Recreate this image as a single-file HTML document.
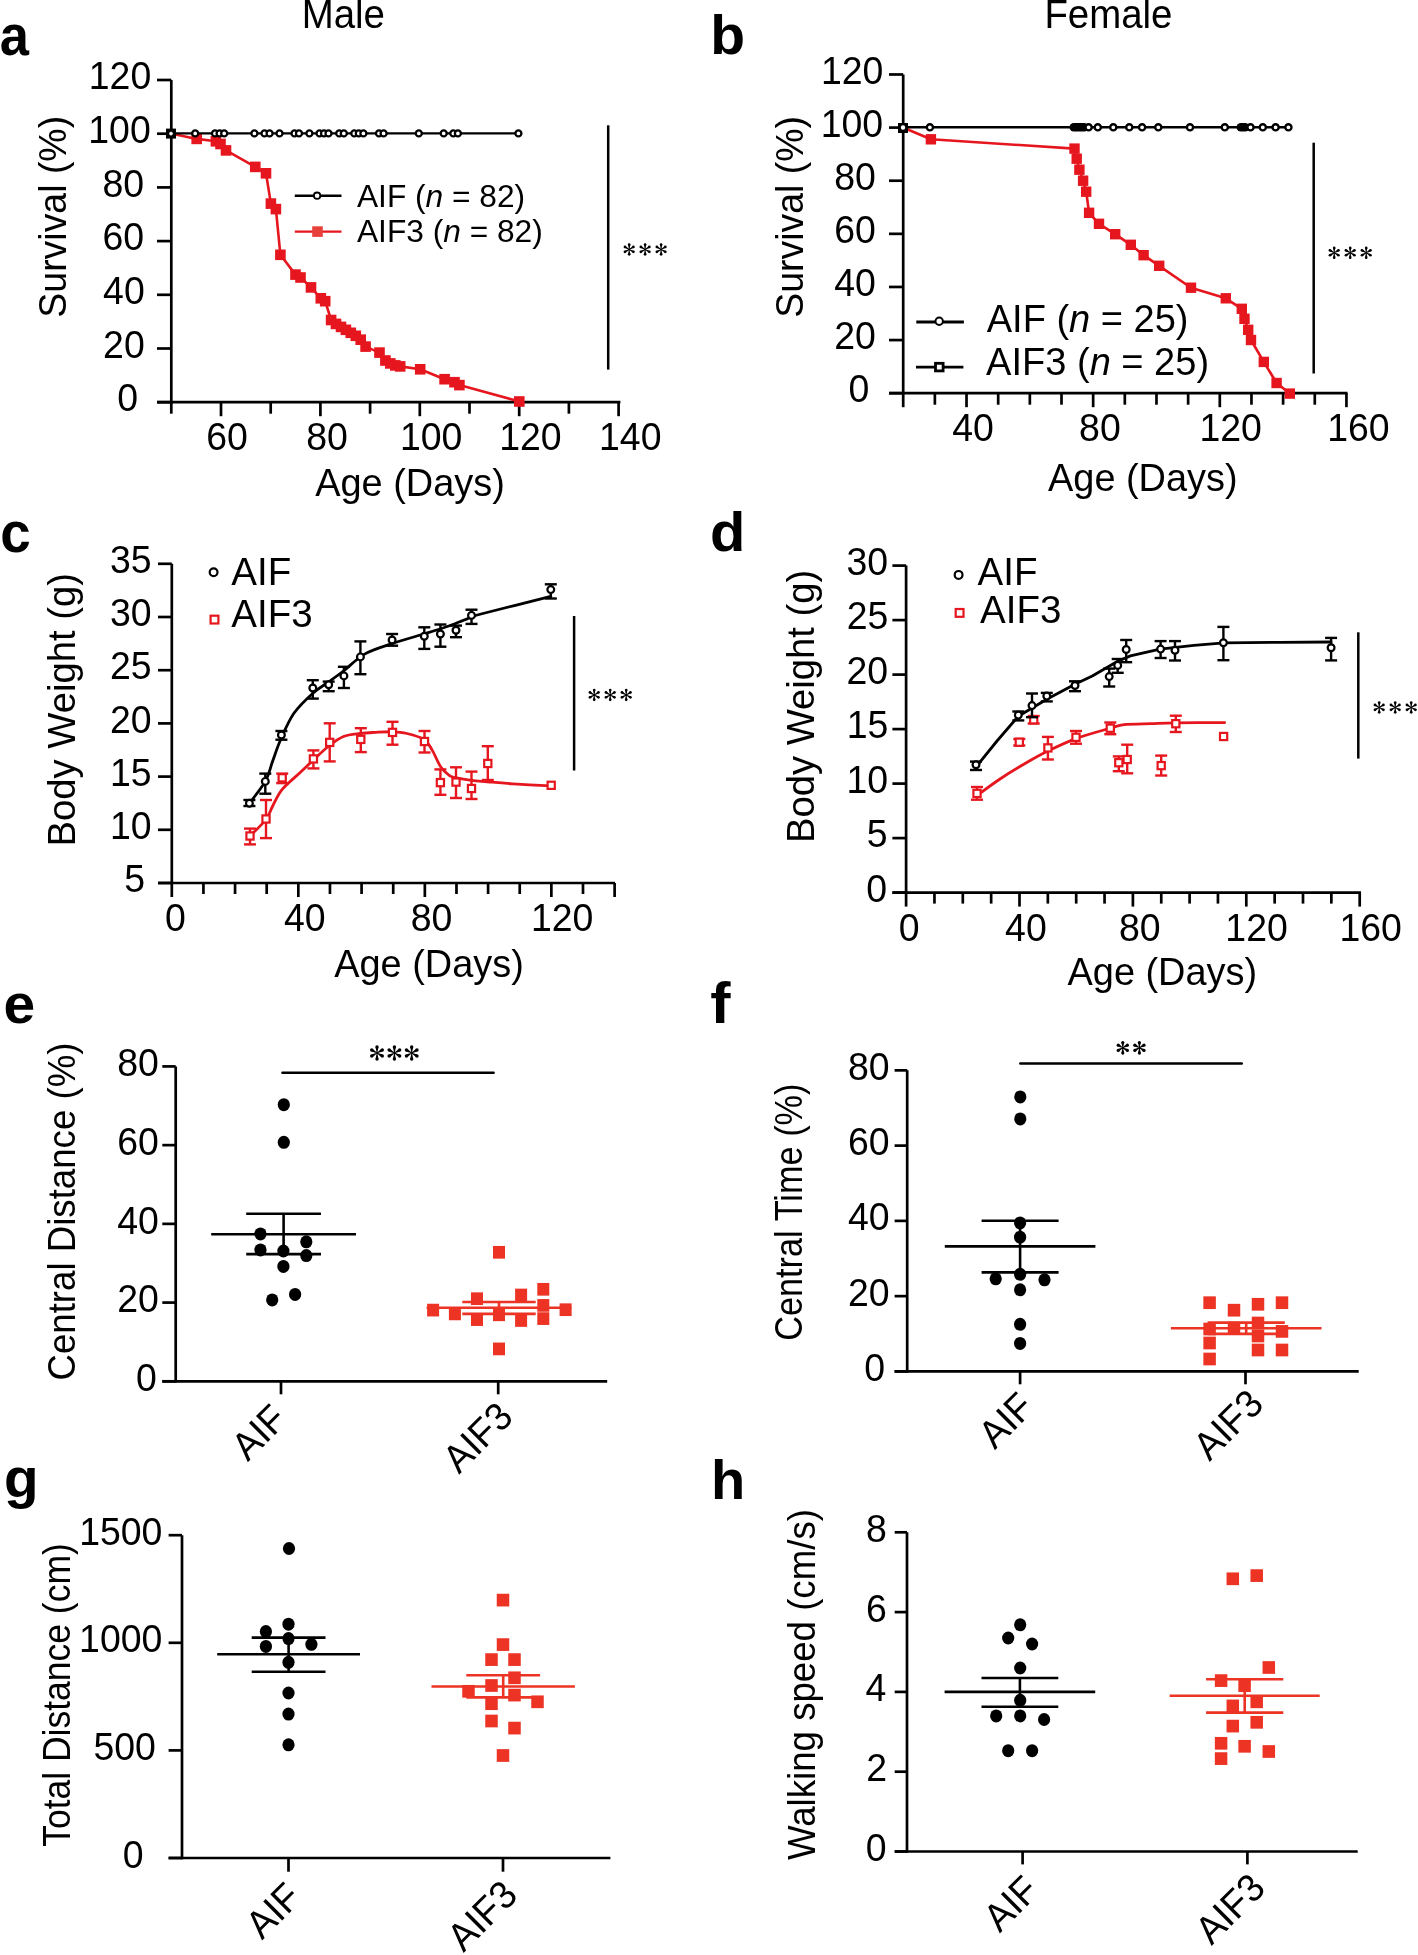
<!DOCTYPE html>
<html><head><meta charset="utf-8"><title>Figure</title>
<style>
html,body{margin:0;padding:0;background:#fff;}
body{width:1418px;height:1955px;overflow:hidden;}
svg{display:block;will-change:transform;}
text{font-family:"Liberation Sans",sans-serif;}
</style></head>
<body>
<svg width="1418" height="1955" viewBox="0 0 1418 1955">
<rect width="1418" height="1955" fill="#fff"/>
<text transform="translate(-0.32,54.72) scale(0.91,1)" style="font-family:'Liberation Sans',sans-serif;font-size:57.66px;font-weight:bold;font-style:normal" fill="#000">a</text>
<text transform="translate(301.73,28.4) scale(0.96,1)" style="font-family:'Liberation Sans',sans-serif;font-size:40px;font-weight:normal;font-style:normal" fill="#000">Male</text>
<line x1="171.3" y1="80" x2="171.3" y2="403.5" stroke="#000" stroke-width="2.7" stroke-linecap="butt"/>
<line x1="157" y1="402.2" x2="171.3" y2="402.2" stroke="#000" stroke-width="2.7" stroke-linecap="butt"/>
<line x1="157" y1="348.5" x2="171.3" y2="348.5" stroke="#000" stroke-width="2.7" stroke-linecap="butt"/>
<line x1="157" y1="294.8" x2="171.3" y2="294.8" stroke="#000" stroke-width="2.7" stroke-linecap="butt"/>
<line x1="157" y1="241.1" x2="171.3" y2="241.1" stroke="#000" stroke-width="2.7" stroke-linecap="butt"/>
<line x1="157" y1="187.4" x2="171.3" y2="187.4" stroke="#000" stroke-width="2.7" stroke-linecap="butt"/>
<line x1="157" y1="133.7" x2="171.3" y2="133.7" stroke="#000" stroke-width="2.7" stroke-linecap="butt"/>
<line x1="157" y1="80" x2="171.3" y2="80" stroke="#000" stroke-width="2.7" stroke-linecap="butt"/>
<line x1="157" y1="402.2" x2="620.4" y2="402.2" stroke="#000" stroke-width="2.7" stroke-linecap="butt"/>
<line x1="171.3" y1="402.2" x2="171.3" y2="413.7" stroke="#000" stroke-width="2.7" stroke-linecap="butt"/>
<line x1="221" y1="402.2" x2="221" y2="416.2" stroke="#000" stroke-width="2.7" stroke-linecap="butt"/>
<line x1="270.7" y1="402.2" x2="270.7" y2="413.7" stroke="#000" stroke-width="2.7" stroke-linecap="butt"/>
<line x1="320.4" y1="402.2" x2="320.4" y2="416.2" stroke="#000" stroke-width="2.7" stroke-linecap="butt"/>
<line x1="370.1" y1="402.2" x2="370.1" y2="413.7" stroke="#000" stroke-width="2.7" stroke-linecap="butt"/>
<line x1="419.8" y1="402.2" x2="419.8" y2="416.2" stroke="#000" stroke-width="2.7" stroke-linecap="butt"/>
<line x1="469.5" y1="402.2" x2="469.5" y2="413.7" stroke="#000" stroke-width="2.7" stroke-linecap="butt"/>
<line x1="519.2" y1="402.2" x2="519.2" y2="416.2" stroke="#000" stroke-width="2.7" stroke-linecap="butt"/>
<line x1="568.9" y1="402.2" x2="568.9" y2="413.7" stroke="#000" stroke-width="2.7" stroke-linecap="butt"/>
<line x1="618.6" y1="402.2" x2="618.6" y2="416.2" stroke="#000" stroke-width="2.7" stroke-linecap="butt"/>
<text transform="translate(117.24,411.32) scale(0.96,1)" style="font-family:'Liberation Sans',sans-serif;font-size:39px;font-weight:normal;font-style:normal" fill="#000">0</text>
<text transform="translate(103.12,357.62) scale(0.96,1)" style="font-family:'Liberation Sans',sans-serif;font-size:39px;font-weight:normal;font-style:normal" fill="#000">20</text>
<text transform="translate(103.12,303.92) scale(0.96,1)" style="font-family:'Liberation Sans',sans-serif;font-size:39px;font-weight:normal;font-style:normal" fill="#000">40</text>
<text transform="translate(102.42,250.22) scale(0.96,1)" style="font-family:'Liberation Sans',sans-serif;font-size:39px;font-weight:normal;font-style:normal" fill="#000">60</text>
<text transform="translate(102.42,196.52) scale(0.96,1)" style="font-family:'Liberation Sans',sans-serif;font-size:39px;font-weight:normal;font-style:normal" fill="#000">80</text>
<text transform="translate(88.29,142.82) scale(0.96,1)" style="font-family:'Liberation Sans',sans-serif;font-size:39px;font-weight:normal;font-style:normal" fill="#000">100</text>
<text transform="translate(88.79,89.12) scale(0.96,1)" style="font-family:'Liberation Sans',sans-serif;font-size:39px;font-weight:normal;font-style:normal" fill="#000">120</text>
<text transform="translate(206.25,449.91) scale(0.96,1)" style="font-family:'Liberation Sans',sans-serif;font-size:39px;font-weight:normal;font-style:normal" fill="#000">60</text>
<text transform="translate(306.3,449.91) scale(0.96,1)" style="font-family:'Liberation Sans',sans-serif;font-size:39px;font-weight:normal;font-style:normal" fill="#000">80</text>
<text transform="translate(399.92,449.91) scale(0.96,1)" style="font-family:'Liberation Sans',sans-serif;font-size:39px;font-weight:normal;font-style:normal" fill="#000">100</text>
<text transform="translate(499.22,449.91) scale(0.96,1)" style="font-family:'Liberation Sans',sans-serif;font-size:39px;font-weight:normal;font-style:normal" fill="#000">120</text>
<text transform="translate(599.02,449.91) scale(0.96,1)" style="font-family:'Liberation Sans',sans-serif;font-size:39px;font-weight:normal;font-style:normal" fill="#000">140</text>
<text transform="translate(315.22,496) scale(0.96,1)" style="font-family:'Liberation Sans',sans-serif;font-size:39.5px;font-weight:normal;font-style:normal" fill="#000">Age (Days)</text>
<text transform="translate(66,317.63) rotate(-90) scale(0.96,1)" style="font-family:'Liberation Sans',sans-serif;font-size:39px;font-weight:normal;font-style:normal" fill="#000">Survival (%)</text>
<line x1="608.2" y1="125.3" x2="608.2" y2="369.6" stroke="#000" stroke-width="2.5" stroke-linecap="butt"/>
<circle cx="629.2" cy="244.5" r="1.35" fill="#000"/>
<circle cx="633.44" cy="246.95" r="1.35" fill="#000"/>
<circle cx="633.44" cy="251.85" r="1.35" fill="#000"/>
<circle cx="629.2" cy="254.3" r="1.35" fill="#000"/>
<circle cx="624.96" cy="251.85" r="1.35" fill="#000"/>
<circle cx="624.96" cy="246.95" r="1.35" fill="#000"/>
<path d="M629.5,249.4 L630.28,244.91 L628.12,244.91 L628.9,249.4Z M629.35,249.66 L633.63,248.09 L632.55,246.22 L629.05,249.14Z M629.05,249.66 L632.55,252.58 L633.63,250.71 L629.35,249.14Z M628.9,249.4 L628.12,253.9 L630.28,253.9 L629.5,249.4Z M629.05,249.14 L624.77,250.71 L625.85,252.58 L629.35,249.66Z M629.35,249.14 L625.85,246.22 L624.77,248.09 L629.05,249.66Z " fill="#000"/>
<circle cx="645.1" cy="244.5" r="1.35" fill="#000"/>
<circle cx="649.34" cy="246.95" r="1.35" fill="#000"/>
<circle cx="649.34" cy="251.85" r="1.35" fill="#000"/>
<circle cx="645.1" cy="254.3" r="1.35" fill="#000"/>
<circle cx="640.86" cy="251.85" r="1.35" fill="#000"/>
<circle cx="640.86" cy="246.95" r="1.35" fill="#000"/>
<path d="M645.4,249.4 L646.18,244.91 L644.02,244.91 L644.8,249.4Z M645.25,249.66 L649.53,248.09 L648.45,246.22 L644.95,249.14Z M644.95,249.66 L648.45,252.58 L649.53,250.71 L645.25,249.14Z M644.8,249.4 L644.02,253.9 L646.18,253.9 L645.4,249.4Z M644.95,249.14 L640.67,250.71 L641.75,252.58 L645.25,249.66Z M645.25,249.14 L641.75,246.22 L640.67,248.09 L644.95,249.66Z " fill="#000"/>
<circle cx="661.1" cy="244.5" r="1.35" fill="#000"/>
<circle cx="665.34" cy="246.95" r="1.35" fill="#000"/>
<circle cx="665.34" cy="251.85" r="1.35" fill="#000"/>
<circle cx="661.1" cy="254.3" r="1.35" fill="#000"/>
<circle cx="656.86" cy="251.85" r="1.35" fill="#000"/>
<circle cx="656.86" cy="246.95" r="1.35" fill="#000"/>
<path d="M661.4,249.4 L662.18,244.91 L660.02,244.91 L660.8,249.4Z M661.25,249.66 L665.53,248.09 L664.45,246.22 L660.95,249.14Z M660.95,249.66 L664.45,252.58 L665.53,250.71 L661.25,249.14Z M660.8,249.4 L660.02,253.9 L662.18,253.9 L661.4,249.4Z M660.95,249.14 L656.67,250.71 L657.75,252.58 L661.25,249.66Z M661.25,249.14 L657.75,246.22 L656.67,248.09 L660.95,249.66Z " fill="#000"/>
<polyline points="171,133.4 196.7,138.9 215.9,141.3 220.5,144 226,150.4 255.3,166.9 266,173.3 270.9,203.6 275.9,209.1 280.4,254.8 295.5,274.6 300.5,277.5 311,287.4 320.8,298.3 325.2,301.2 331.1,320 336,323.9 341,326.9 345.9,329.8 350.8,332.8 355.8,335.8 360.7,339.7 365.6,346.6 379.5,352.6 385.4,360.5 390.3,363.4 395.3,365.4 400.2,366.4 420.2,369.3 444.6,379.2 454.5,382.2 459.4,385.1 519.3,401.5" fill="none" stroke="#e6161e" stroke-width="2.6" stroke-linejoin="round" stroke-linecap="round"/>
<rect x="191.4" y="133.6" width="10.6" height="10.6" fill="#e6161e"/>
<rect x="210.6" y="136" width="10.6" height="10.6" fill="#e6161e"/>
<rect x="215.2" y="138.7" width="10.6" height="10.6" fill="#e6161e"/>
<rect x="220.7" y="145.1" width="10.6" height="10.6" fill="#e6161e"/>
<rect x="250" y="161.6" width="10.6" height="10.6" fill="#e6161e"/>
<rect x="260.7" y="168" width="10.6" height="10.6" fill="#e6161e"/>
<rect x="265.6" y="198.3" width="10.6" height="10.6" fill="#e6161e"/>
<rect x="270.6" y="203.8" width="10.6" height="10.6" fill="#e6161e"/>
<rect x="275.1" y="249.5" width="10.6" height="10.6" fill="#e6161e"/>
<rect x="290.2" y="269.3" width="10.6" height="10.6" fill="#e6161e"/>
<rect x="295.2" y="272.2" width="10.6" height="10.6" fill="#e6161e"/>
<rect x="305.7" y="282.1" width="10.6" height="10.6" fill="#e6161e"/>
<rect x="315.5" y="293" width="10.6" height="10.6" fill="#e6161e"/>
<rect x="319.9" y="295.9" width="10.6" height="10.6" fill="#e6161e"/>
<rect x="325.8" y="314.7" width="10.6" height="10.6" fill="#e6161e"/>
<rect x="330.7" y="318.6" width="10.6" height="10.6" fill="#e6161e"/>
<rect x="335.7" y="321.6" width="10.6" height="10.6" fill="#e6161e"/>
<rect x="340.6" y="324.5" width="10.6" height="10.6" fill="#e6161e"/>
<rect x="345.5" y="327.5" width="10.6" height="10.6" fill="#e6161e"/>
<rect x="350.5" y="330.5" width="10.6" height="10.6" fill="#e6161e"/>
<rect x="355.4" y="334.4" width="10.6" height="10.6" fill="#e6161e"/>
<rect x="360.3" y="341.3" width="10.6" height="10.6" fill="#e6161e"/>
<rect x="374.2" y="347.3" width="10.6" height="10.6" fill="#e6161e"/>
<rect x="380.1" y="355.2" width="10.6" height="10.6" fill="#e6161e"/>
<rect x="385" y="358.1" width="10.6" height="10.6" fill="#e6161e"/>
<rect x="390" y="360.1" width="10.6" height="10.6" fill="#e6161e"/>
<rect x="394.9" y="361.1" width="10.6" height="10.6" fill="#e6161e"/>
<rect x="414.9" y="364" width="10.6" height="10.6" fill="#e6161e"/>
<rect x="439.3" y="373.9" width="10.6" height="10.6" fill="#e6161e"/>
<rect x="449.2" y="376.9" width="10.6" height="10.6" fill="#e6161e"/>
<rect x="454.1" y="379.8" width="10.6" height="10.6" fill="#e6161e"/>
<rect x="514" y="396.2" width="10.6" height="10.6" fill="#e6161e"/>
<line x1="171" y1="133.4" x2="518.4" y2="133.4" stroke="#000" stroke-width="2.4" stroke-linecap="butt"/>
<circle cx="195.2" cy="133.4" r="3" fill="#fff" stroke="#000" stroke-width="2.3"/>
<circle cx="215" cy="133.4" r="3" fill="#fff" stroke="#000" stroke-width="2.3"/>
<circle cx="219.6" cy="133.4" r="3" fill="#fff" stroke="#000" stroke-width="2.3"/>
<circle cx="224.2" cy="133.4" r="3" fill="#fff" stroke="#000" stroke-width="2.3"/>
<circle cx="254.4" cy="133.4" r="3" fill="#fff" stroke="#000" stroke-width="2.3"/>
<circle cx="264.5" cy="133.4" r="3" fill="#fff" stroke="#000" stroke-width="2.3"/>
<circle cx="269.6" cy="133.4" r="3" fill="#fff" stroke="#000" stroke-width="2.3"/>
<circle cx="279.5" cy="133.4" r="3" fill="#fff" stroke="#000" stroke-width="2.3"/>
<circle cx="294.5" cy="133.4" r="3" fill="#fff" stroke="#000" stroke-width="2.3"/>
<circle cx="299" cy="133.4" r="3" fill="#fff" stroke="#000" stroke-width="2.3"/>
<circle cx="309.4" cy="133.4" r="3" fill="#fff" stroke="#000" stroke-width="2.3"/>
<circle cx="319.5" cy="133.4" r="3" fill="#fff" stroke="#000" stroke-width="2.3"/>
<circle cx="324" cy="133.4" r="3" fill="#fff" stroke="#000" stroke-width="2.3"/>
<circle cx="328.5" cy="133.4" r="3" fill="#fff" stroke="#000" stroke-width="2.3"/>
<circle cx="339.2" cy="133.4" r="3" fill="#fff" stroke="#000" stroke-width="2.3"/>
<circle cx="343.8" cy="133.4" r="3" fill="#fff" stroke="#000" stroke-width="2.3"/>
<circle cx="354.3" cy="133.4" r="3" fill="#fff" stroke="#000" stroke-width="2.3"/>
<circle cx="358.8" cy="133.4" r="3" fill="#fff" stroke="#000" stroke-width="2.3"/>
<circle cx="363.4" cy="133.4" r="3" fill="#fff" stroke="#000" stroke-width="2.3"/>
<circle cx="379" cy="133.4" r="3" fill="#fff" stroke="#000" stroke-width="2.3"/>
<circle cx="383.6" cy="133.4" r="3" fill="#fff" stroke="#000" stroke-width="2.3"/>
<circle cx="418.8" cy="133.4" r="3" fill="#fff" stroke="#000" stroke-width="2.3"/>
<circle cx="443.7" cy="133.4" r="3" fill="#fff" stroke="#000" stroke-width="2.3"/>
<circle cx="453.3" cy="133.4" r="3" fill="#fff" stroke="#000" stroke-width="2.3"/>
<circle cx="457.9" cy="133.4" r="3" fill="#fff" stroke="#000" stroke-width="2.3"/>
<circle cx="518.4" cy="133.4" r="3" fill="#fff" stroke="#000" stroke-width="2.3"/>
<rect x="166" y="128.6" width="10" height="10" fill="#000"/>
<circle cx="171" cy="133.6" r="1.6" fill="#fff" stroke="#fff" stroke-width="0.5"/>
<line x1="294.8" y1="195.7" x2="341.5" y2="195.7" stroke="#000" stroke-width="2.4" stroke-linecap="butt"/>
<circle cx="317.1" cy="195.7" r="3.2" fill="#fff" stroke="#000" stroke-width="1.8"/>
<line x1="294.8" y1="231.6" x2="341.5" y2="231.6" stroke="#e6161e" stroke-width="2.4" stroke-linecap="butt"/>
<rect x="312.2" y="226.3" width="10.6" height="10.6" fill="#e8403a"/>
<text transform="translate(356.94,207.3) scale(1,1)" style="font-family:'Liberation Sans',sans-serif;font-size:31.7px;font-weight:normal;font-style:normal" fill="#000">AIF (<tspan style="font-style:italic">n</tspan> = 82)</text>
<text transform="translate(356.94,242) scale(1,1)" style="font-family:'Liberation Sans',sans-serif;font-size:31.7px;font-weight:normal;font-style:normal" fill="#000">AIF3 (<tspan style="font-style:italic">n</tspan> = 82)</text>
<text transform="translate(710.33,53.95) scale(1.03,1)" style="font-family:'Liberation Sans',sans-serif;font-size:55.37px;font-weight:bold;font-style:normal" fill="#000">b</text>
<text transform="translate(1044.43,28.4) scale(0.96,1)" style="font-family:'Liberation Sans',sans-serif;font-size:40px;font-weight:normal;font-style:normal" fill="#000">Female</text>
<line x1="903.2" y1="74.48" x2="903.2" y2="394.5" stroke="#000" stroke-width="2.7" stroke-linecap="butt"/>
<line x1="889" y1="393.2" x2="903.2" y2="393.2" stroke="#000" stroke-width="2.7" stroke-linecap="butt"/>
<line x1="889" y1="340.08" x2="903.2" y2="340.08" stroke="#000" stroke-width="2.7" stroke-linecap="butt"/>
<line x1="889" y1="286.96" x2="903.2" y2="286.96" stroke="#000" stroke-width="2.7" stroke-linecap="butt"/>
<line x1="889" y1="233.84" x2="903.2" y2="233.84" stroke="#000" stroke-width="2.7" stroke-linecap="butt"/>
<line x1="889" y1="180.72" x2="903.2" y2="180.72" stroke="#000" stroke-width="2.7" stroke-linecap="butt"/>
<line x1="889" y1="127.6" x2="903.2" y2="127.6" stroke="#000" stroke-width="2.7" stroke-linecap="butt"/>
<line x1="889" y1="74.48" x2="903.2" y2="74.48" stroke="#000" stroke-width="2.7" stroke-linecap="butt"/>
<line x1="889" y1="393.2" x2="1347.5" y2="393.2" stroke="#000" stroke-width="2.7" stroke-linecap="butt"/>
<line x1="903.2" y1="393.2" x2="903.2" y2="407.2" stroke="#000" stroke-width="2.7" stroke-linecap="butt"/>
<line x1="934.86" y1="393.2" x2="934.86" y2="404.7" stroke="#000" stroke-width="2.7" stroke-linecap="butt"/>
<line x1="966.52" y1="393.2" x2="966.52" y2="407.2" stroke="#000" stroke-width="2.7" stroke-linecap="butt"/>
<line x1="998.18" y1="393.2" x2="998.18" y2="404.7" stroke="#000" stroke-width="2.7" stroke-linecap="butt"/>
<line x1="1029.84" y1="393.2" x2="1029.84" y2="404.7" stroke="#000" stroke-width="2.7" stroke-linecap="butt"/>
<line x1="1061.5" y1="393.2" x2="1061.5" y2="404.7" stroke="#000" stroke-width="2.7" stroke-linecap="butt"/>
<line x1="1093.16" y1="393.2" x2="1093.16" y2="407.2" stroke="#000" stroke-width="2.7" stroke-linecap="butt"/>
<line x1="1124.82" y1="393.2" x2="1124.82" y2="404.7" stroke="#000" stroke-width="2.7" stroke-linecap="butt"/>
<line x1="1156.48" y1="393.2" x2="1156.48" y2="404.7" stroke="#000" stroke-width="2.7" stroke-linecap="butt"/>
<line x1="1188.14" y1="393.2" x2="1188.14" y2="404.7" stroke="#000" stroke-width="2.7" stroke-linecap="butt"/>
<line x1="1219.8" y1="393.2" x2="1219.8" y2="407.2" stroke="#000" stroke-width="2.7" stroke-linecap="butt"/>
<line x1="1251.46" y1="393.2" x2="1251.46" y2="404.7" stroke="#000" stroke-width="2.7" stroke-linecap="butt"/>
<line x1="1283.12" y1="393.2" x2="1283.12" y2="404.7" stroke="#000" stroke-width="2.7" stroke-linecap="butt"/>
<line x1="1314.78" y1="393.2" x2="1314.78" y2="404.7" stroke="#000" stroke-width="2.7" stroke-linecap="butt"/>
<line x1="1346.44" y1="393.2" x2="1346.44" y2="407.2" stroke="#000" stroke-width="2.7" stroke-linecap="butt"/>
<text transform="translate(848.54,402.32) scale(0.96,1)" style="font-family:'Liberation Sans',sans-serif;font-size:39px;font-weight:normal;font-style:normal" fill="#000">0</text>
<text transform="translate(834.22,349.2) scale(0.96,1)" style="font-family:'Liberation Sans',sans-serif;font-size:39px;font-weight:normal;font-style:normal" fill="#000">20</text>
<text transform="translate(834.22,296.08) scale(0.96,1)" style="font-family:'Liberation Sans',sans-serif;font-size:39px;font-weight:normal;font-style:normal" fill="#000">40</text>
<text transform="translate(834.22,242.96) scale(0.96,1)" style="font-family:'Liberation Sans',sans-serif;font-size:39px;font-weight:normal;font-style:normal" fill="#000">60</text>
<text transform="translate(834.22,189.84) scale(0.96,1)" style="font-family:'Liberation Sans',sans-serif;font-size:39px;font-weight:normal;font-style:normal" fill="#000">80</text>
<text transform="translate(820.69,136.72) scale(0.96,1)" style="font-family:'Liberation Sans',sans-serif;font-size:39px;font-weight:normal;font-style:normal" fill="#000">100</text>
<text transform="translate(820.99,83.6) scale(0.96,1)" style="font-family:'Liberation Sans',sans-serif;font-size:39px;font-weight:normal;font-style:normal" fill="#000">120</text>
<text transform="translate(952.28,441.31) scale(0.96,1)" style="font-family:'Liberation Sans',sans-serif;font-size:39px;font-weight:normal;font-style:normal" fill="#000">40</text>
<text transform="translate(1079.1,441.31) scale(0.96,1)" style="font-family:'Liberation Sans',sans-serif;font-size:39px;font-weight:normal;font-style:normal" fill="#000">80</text>
<text transform="translate(1199.42,441.31) scale(0.96,1)" style="font-family:'Liberation Sans',sans-serif;font-size:39px;font-weight:normal;font-style:normal" fill="#000">120</text>
<text transform="translate(1327.22,441.31) scale(0.96,1)" style="font-family:'Liberation Sans',sans-serif;font-size:39px;font-weight:normal;font-style:normal" fill="#000">160</text>
<text transform="translate(1048.02,491.1) scale(0.96,1)" style="font-family:'Liberation Sans',sans-serif;font-size:39.5px;font-weight:normal;font-style:normal" fill="#000">Age (Days)</text>
<text transform="translate(803.4,317.73) rotate(-90) scale(0.96,1)" style="font-family:'Liberation Sans',sans-serif;font-size:39px;font-weight:normal;font-style:normal" fill="#000">Survival (%)</text>
<line x1="1313.7" y1="142.7" x2="1313.7" y2="373.5" stroke="#000" stroke-width="2.5" stroke-linecap="butt"/>
<circle cx="1334.2" cy="247.9" r="1.35" fill="#000"/>
<circle cx="1338.44" cy="250.35" r="1.35" fill="#000"/>
<circle cx="1338.44" cy="255.25" r="1.35" fill="#000"/>
<circle cx="1334.2" cy="257.7" r="1.35" fill="#000"/>
<circle cx="1329.96" cy="255.25" r="1.35" fill="#000"/>
<circle cx="1329.96" cy="250.35" r="1.35" fill="#000"/>
<path d="M1334.5,252.8 L1335.28,248.31 L1333.12,248.31 L1333.9,252.8Z M1334.35,253.06 L1338.63,251.49 L1337.55,249.62 L1334.05,252.54Z M1334.05,253.06 L1337.55,255.98 L1338.63,254.11 L1334.35,252.54Z M1333.9,252.8 L1333.12,257.3 L1335.28,257.3 L1334.5,252.8Z M1334.05,252.54 L1329.77,254.11 L1330.85,255.98 L1334.35,253.06Z M1334.35,252.54 L1330.85,249.62 L1329.77,251.49 L1334.05,253.06Z " fill="#000"/>
<circle cx="1350.2" cy="247.9" r="1.35" fill="#000"/>
<circle cx="1354.44" cy="250.35" r="1.35" fill="#000"/>
<circle cx="1354.44" cy="255.25" r="1.35" fill="#000"/>
<circle cx="1350.2" cy="257.7" r="1.35" fill="#000"/>
<circle cx="1345.96" cy="255.25" r="1.35" fill="#000"/>
<circle cx="1345.96" cy="250.35" r="1.35" fill="#000"/>
<path d="M1350.5,252.8 L1351.28,248.31 L1349.12,248.31 L1349.9,252.8Z M1350.35,253.06 L1354.63,251.49 L1353.55,249.62 L1350.05,252.54Z M1350.05,253.06 L1353.55,255.98 L1354.63,254.11 L1350.35,252.54Z M1349.9,252.8 L1349.12,257.3 L1351.28,257.3 L1350.5,252.8Z M1350.05,252.54 L1345.77,254.11 L1346.85,255.98 L1350.35,253.06Z M1350.35,252.54 L1346.85,249.62 L1345.77,251.49 L1350.05,253.06Z " fill="#000"/>
<circle cx="1366.2" cy="247.9" r="1.35" fill="#000"/>
<circle cx="1370.44" cy="250.35" r="1.35" fill="#000"/>
<circle cx="1370.44" cy="255.25" r="1.35" fill="#000"/>
<circle cx="1366.2" cy="257.7" r="1.35" fill="#000"/>
<circle cx="1361.96" cy="255.25" r="1.35" fill="#000"/>
<circle cx="1361.96" cy="250.35" r="1.35" fill="#000"/>
<path d="M1366.5,252.8 L1367.28,248.31 L1365.12,248.31 L1365.9,252.8Z M1366.35,253.06 L1370.63,251.49 L1369.55,249.62 L1366.05,252.54Z M1366.05,253.06 L1369.55,255.98 L1370.63,254.11 L1366.35,252.54Z M1365.9,252.8 L1365.12,257.3 L1367.28,257.3 L1366.5,252.8Z M1366.05,252.54 L1361.77,254.11 L1362.85,255.98 L1366.35,253.06Z M1366.35,252.54 L1362.85,249.62 L1361.77,251.49 L1366.05,253.06Z " fill="#000"/>
<polyline points="903,127.5 930.9,139.3 1074.5,148.6 1076.7,158.7 1079.4,169.7 1083.1,180.7 1086.2,191.7 1089.1,212.8 1099,223.8 1115.2,234.2 1130.8,244.8 1143.6,255.2 1159.2,265.8 1191,287.7 1225.8,298.3 1241.8,308.8 1244.5,318.8 1248.2,329.8 1251,340 1263.8,361.9 1276.6,383 1289.8,393.6" fill="none" stroke="#e6161e" stroke-width="2.6" stroke-linejoin="round" stroke-linecap="round"/>
<rect x="925.7" y="134.1" width="10.4" height="10.4" fill="#e6161e"/>
<rect x="1069.3" y="143.4" width="10.4" height="10.4" fill="#e6161e"/>
<rect x="1071.5" y="153.5" width="10.4" height="10.4" fill="#e6161e"/>
<rect x="1074.2" y="164.5" width="10.4" height="10.4" fill="#e6161e"/>
<rect x="1077.9" y="175.5" width="10.4" height="10.4" fill="#e6161e"/>
<rect x="1081" y="186.5" width="10.4" height="10.4" fill="#e6161e"/>
<rect x="1083.9" y="207.6" width="10.4" height="10.4" fill="#e6161e"/>
<rect x="1093.8" y="218.6" width="10.4" height="10.4" fill="#e6161e"/>
<rect x="1110" y="229" width="10.4" height="10.4" fill="#e6161e"/>
<rect x="1125.6" y="239.6" width="10.4" height="10.4" fill="#e6161e"/>
<rect x="1138.4" y="250" width="10.4" height="10.4" fill="#e6161e"/>
<rect x="1154" y="260.6" width="10.4" height="10.4" fill="#e6161e"/>
<rect x="1185.8" y="282.5" width="10.4" height="10.4" fill="#e6161e"/>
<rect x="1220.6" y="293.1" width="10.4" height="10.4" fill="#e6161e"/>
<rect x="1236.6" y="303.6" width="10.4" height="10.4" fill="#e6161e"/>
<rect x="1239.3" y="313.6" width="10.4" height="10.4" fill="#e6161e"/>
<rect x="1243" y="324.6" width="10.4" height="10.4" fill="#e6161e"/>
<rect x="1245.8" y="334.8" width="10.4" height="10.4" fill="#e6161e"/>
<rect x="1258.6" y="356.7" width="10.4" height="10.4" fill="#e6161e"/>
<rect x="1271.4" y="377.8" width="10.4" height="10.4" fill="#e6161e"/>
<rect x="1284.6" y="388.4" width="10.4" height="10.4" fill="#e6161e"/>
<line x1="903" y1="127.3" x2="1288.4" y2="127.3" stroke="#000" stroke-width="2.5" stroke-linecap="butt"/>
<rect x="1069.5" y="123" width="19" height="8.6" rx="4.3" fill="#000"/>
<rect x="1236.5" y="123" width="13" height="8.6" rx="4.3" fill="#000"/>
<circle cx="929.9" cy="127.3" r="3.1" fill="#fff" stroke="#000" stroke-width="2.4"/>
<circle cx="1088.6" cy="127.3" r="3.1" fill="#fff" stroke="#000" stroke-width="2.4"/>
<circle cx="1097.8" cy="127.3" r="3.1" fill="#fff" stroke="#000" stroke-width="2.4"/>
<circle cx="1113.3" cy="127.3" r="3.1" fill="#fff" stroke="#000" stroke-width="2.4"/>
<circle cx="1129.3" cy="127.3" r="3.1" fill="#fff" stroke="#000" stroke-width="2.4"/>
<circle cx="1142.1" cy="127.3" r="3.1" fill="#fff" stroke="#000" stroke-width="2.4"/>
<circle cx="1158.3" cy="127.3" r="3.1" fill="#fff" stroke="#000" stroke-width="2.4"/>
<circle cx="1190" cy="127.3" r="3.1" fill="#fff" stroke="#000" stroke-width="2.4"/>
<circle cx="1224.8" cy="127.3" r="3.1" fill="#fff" stroke="#000" stroke-width="2.4"/>
<circle cx="1250.5" cy="127.3" r="3.1" fill="#fff" stroke="#000" stroke-width="2.4"/>
<circle cx="1262.8" cy="127.3" r="3.1" fill="#fff" stroke="#000" stroke-width="2.4"/>
<circle cx="1275.6" cy="127.3" r="3.1" fill="#fff" stroke="#000" stroke-width="2.4"/>
<circle cx="1288.4" cy="127.3" r="3.1" fill="#fff" stroke="#000" stroke-width="2.4"/>
<rect x="899.3" y="124.3" width="7.4" height="7.4" fill="#fff" stroke="#000" stroke-width="2.6"/>
<circle cx="903" cy="127.5" r="3" fill="#fff" stroke="#000" stroke-width="1.6"/>
<line x1="916.3" y1="322" x2="963.9" y2="322" stroke="#000" stroke-width="2.8" stroke-linecap="butt"/>
<circle cx="939.2" cy="321.2" r="3.7" fill="#fff" stroke="#000" stroke-width="2"/>
<line x1="916" y1="367.1" x2="963.4" y2="367.1" stroke="#000" stroke-width="2.8" stroke-linecap="butt"/>
<rect x="935.5" y="363.3" width="7.6" height="7.6" fill="#fff" stroke="#000" stroke-width="2.8"/>
<text transform="translate(986.72,331.8) scale(0.98,1)" style="font-family:'Liberation Sans',sans-serif;font-size:38.8px;font-weight:normal;font-style:normal" fill="#000">AIF (<tspan style="font-style:italic">n</tspan> = 25)</text>
<text transform="translate(986.12,375) scale(0.98,1)" style="font-family:'Liberation Sans',sans-serif;font-size:38.8px;font-weight:normal;font-style:normal" fill="#000">AIF3 (<tspan style="font-style:italic">n</tspan> = 25)</text>
<text transform="translate(0.36,551.53) scale(0.97,1)" style="font-family:'Liberation Sans',sans-serif;font-size:56.57px;font-weight:bold;font-style:normal" fill="#000">c</text>
<line x1="171.8" y1="563.8" x2="171.8" y2="884.3" stroke="#000" stroke-width="2.7" stroke-linecap="butt"/>
<line x1="158" y1="883" x2="171.8" y2="883" stroke="#000" stroke-width="2.7" stroke-linecap="butt"/>
<line x1="158" y1="829.8" x2="171.8" y2="829.8" stroke="#000" stroke-width="2.7" stroke-linecap="butt"/>
<line x1="158" y1="776.6" x2="171.8" y2="776.6" stroke="#000" stroke-width="2.7" stroke-linecap="butt"/>
<line x1="158" y1="723.4" x2="171.8" y2="723.4" stroke="#000" stroke-width="2.7" stroke-linecap="butt"/>
<line x1="158" y1="670.2" x2="171.8" y2="670.2" stroke="#000" stroke-width="2.7" stroke-linecap="butt"/>
<line x1="158" y1="617" x2="171.8" y2="617" stroke="#000" stroke-width="2.7" stroke-linecap="butt"/>
<line x1="158" y1="563.8" x2="171.8" y2="563.8" stroke="#000" stroke-width="2.7" stroke-linecap="butt"/>
<line x1="158" y1="883" x2="615" y2="883" stroke="#000" stroke-width="2.7" stroke-linecap="butt"/>
<line x1="171.8" y1="883" x2="171.8" y2="897" stroke="#000" stroke-width="2.7" stroke-linecap="butt"/>
<line x1="203.43" y1="883" x2="203.43" y2="894" stroke="#000" stroke-width="2.7" stroke-linecap="butt"/>
<line x1="235.06" y1="883" x2="235.06" y2="894" stroke="#000" stroke-width="2.7" stroke-linecap="butt"/>
<line x1="266.69" y1="883" x2="266.69" y2="894" stroke="#000" stroke-width="2.7" stroke-linecap="butt"/>
<line x1="298.32" y1="883" x2="298.32" y2="897" stroke="#000" stroke-width="2.7" stroke-linecap="butt"/>
<line x1="329.95" y1="883" x2="329.95" y2="894" stroke="#000" stroke-width="2.7" stroke-linecap="butt"/>
<line x1="361.58" y1="883" x2="361.58" y2="894" stroke="#000" stroke-width="2.7" stroke-linecap="butt"/>
<line x1="393.21" y1="883" x2="393.21" y2="894" stroke="#000" stroke-width="2.7" stroke-linecap="butt"/>
<line x1="424.84" y1="883" x2="424.84" y2="897" stroke="#000" stroke-width="2.7" stroke-linecap="butt"/>
<line x1="456.47" y1="883" x2="456.47" y2="894" stroke="#000" stroke-width="2.7" stroke-linecap="butt"/>
<line x1="488.1" y1="883" x2="488.1" y2="894" stroke="#000" stroke-width="2.7" stroke-linecap="butt"/>
<line x1="519.73" y1="883" x2="519.73" y2="894" stroke="#000" stroke-width="2.7" stroke-linecap="butt"/>
<line x1="551.36" y1="883" x2="551.36" y2="897" stroke="#000" stroke-width="2.7" stroke-linecap="butt"/>
<line x1="582.99" y1="883" x2="582.99" y2="894" stroke="#000" stroke-width="2.7" stroke-linecap="butt"/>
<line x1="614.62" y1="883" x2="614.62" y2="897" stroke="#000" stroke-width="2.7" stroke-linecap="butt"/>
<text transform="translate(109.92,839.02) scale(0.96,1)" style="font-family:'Liberation Sans',sans-serif;font-size:39px;font-weight:normal;font-style:normal" fill="#000">10</text>
<text transform="translate(110.03,785.62) scale(0.96,1)" style="font-family:'Liberation Sans',sans-serif;font-size:39px;font-weight:normal;font-style:normal" fill="#000">15</text>
<text transform="translate(109.92,732.62) scale(0.96,1)" style="font-family:'Liberation Sans',sans-serif;font-size:39px;font-weight:normal;font-style:normal" fill="#000">20</text>
<text transform="translate(110.03,679.42) scale(0.96,1)" style="font-family:'Liberation Sans',sans-serif;font-size:39px;font-weight:normal;font-style:normal" fill="#000">25</text>
<text transform="translate(109.92,626.22) scale(0.96,1)" style="font-family:'Liberation Sans',sans-serif;font-size:39px;font-weight:normal;font-style:normal" fill="#000">30</text>
<text transform="translate(110.03,573.02) scale(0.96,1)" style="font-family:'Liberation Sans',sans-serif;font-size:39px;font-weight:normal;font-style:normal" fill="#000">35</text>
<text transform="translate(124.36,892.02) scale(0.96,1)" style="font-family:'Liberation Sans',sans-serif;font-size:39px;font-weight:normal;font-style:normal" fill="#000">5</text>
<text transform="translate(164.94,931.11) scale(0.96,1)" style="font-family:'Liberation Sans',sans-serif;font-size:39px;font-weight:normal;font-style:normal" fill="#000">0</text>
<text transform="translate(283.88,931.11) scale(0.96,1)" style="font-family:'Liberation Sans',sans-serif;font-size:39px;font-weight:normal;font-style:normal" fill="#000">40</text>
<text transform="translate(410.8,931.11) scale(0.96,1)" style="font-family:'Liberation Sans',sans-serif;font-size:39px;font-weight:normal;font-style:normal" fill="#000">80</text>
<text transform="translate(530.92,931.11) scale(0.96,1)" style="font-family:'Liberation Sans',sans-serif;font-size:39px;font-weight:normal;font-style:normal" fill="#000">120</text>
<text transform="translate(334.22,977.3) scale(0.96,1)" style="font-family:'Liberation Sans',sans-serif;font-size:39.5px;font-weight:normal;font-style:normal" fill="#000">Age (Days)</text>
<text transform="translate(75.1,846.44) rotate(-90) scale(0.98,1)" style="font-family:'Liberation Sans',sans-serif;font-size:39px;font-weight:normal;font-style:normal" fill="#000">Body Weight (g)</text>
<line x1="574.1" y1="616" x2="574.1" y2="770.5" stroke="#000" stroke-width="2.5" stroke-linecap="butt"/>
<circle cx="594.2" cy="690" r="1.35" fill="#000"/>
<circle cx="598.44" cy="692.45" r="1.35" fill="#000"/>
<circle cx="598.44" cy="697.35" r="1.35" fill="#000"/>
<circle cx="594.2" cy="699.8" r="1.35" fill="#000"/>
<circle cx="589.96" cy="697.35" r="1.35" fill="#000"/>
<circle cx="589.96" cy="692.45" r="1.35" fill="#000"/>
<path d="M594.5,694.9 L595.28,690.4 L593.12,690.4 L593.9,694.9Z M594.35,695.16 L598.63,693.59 L597.55,691.72 L594.05,694.64Z M594.05,695.16 L597.55,698.08 L598.63,696.21 L594.35,694.64Z M593.9,694.9 L593.12,699.39 L595.28,699.39 L594.5,694.9Z M594.05,694.64 L589.77,696.21 L590.85,698.08 L594.35,695.16Z M594.35,694.64 L590.85,691.72 L589.77,693.59 L594.05,695.16Z " fill="#000"/>
<circle cx="610.2" cy="690" r="1.35" fill="#000"/>
<circle cx="614.44" cy="692.45" r="1.35" fill="#000"/>
<circle cx="614.44" cy="697.35" r="1.35" fill="#000"/>
<circle cx="610.2" cy="699.8" r="1.35" fill="#000"/>
<circle cx="605.96" cy="697.35" r="1.35" fill="#000"/>
<circle cx="605.96" cy="692.45" r="1.35" fill="#000"/>
<path d="M610.5,694.9 L611.28,690.4 L609.12,690.4 L609.9,694.9Z M610.35,695.16 L614.63,693.59 L613.55,691.72 L610.05,694.64Z M610.05,695.16 L613.55,698.08 L614.63,696.21 L610.35,694.64Z M609.9,694.9 L609.12,699.39 L611.28,699.39 L610.5,694.9Z M610.05,694.64 L605.77,696.21 L606.85,698.08 L610.35,695.16Z M610.35,694.64 L606.85,691.72 L605.77,693.59 L610.05,695.16Z " fill="#000"/>
<circle cx="626.2" cy="690" r="1.35" fill="#000"/>
<circle cx="630.44" cy="692.45" r="1.35" fill="#000"/>
<circle cx="630.44" cy="697.35" r="1.35" fill="#000"/>
<circle cx="626.2" cy="699.8" r="1.35" fill="#000"/>
<circle cx="621.96" cy="697.35" r="1.35" fill="#000"/>
<circle cx="621.96" cy="692.45" r="1.35" fill="#000"/>
<path d="M626.5,694.9 L627.28,690.4 L625.12,690.4 L625.9,694.9Z M626.35,695.16 L630.63,693.59 L629.55,691.72 L626.05,694.64Z M626.05,695.16 L629.55,698.08 L630.63,696.21 L626.35,694.64Z M625.9,694.9 L625.12,699.39 L627.28,699.39 L626.5,694.9Z M626.05,694.64 L621.77,696.21 L622.85,698.08 L626.35,695.16Z M626.35,694.64 L622.85,691.72 L621.77,693.59 L626.05,695.16Z " fill="#000"/>
<circle cx="213.6" cy="572.3" r="3.9" fill="#fff" stroke="#000" stroke-width="2.2"/>
<rect x="210.6" y="615.7" width="7.8" height="7.8" fill="#fff" stroke="#e6161e" stroke-width="2.2"/>
<text transform="translate(231.32,585.2) scale(1,1)" style="font-family:'Liberation Sans',sans-serif;font-size:38.5px;font-weight:normal;font-style:normal" fill="#000">AIF</text>
<text transform="translate(231.32,627.3) scale(1,1)" style="font-family:'Liberation Sans',sans-serif;font-size:38.5px;font-weight:normal;font-style:normal" fill="#000">AIF3</text>
<path d="M250,836 C252.67,833.25 262.22,824.5 266,819.5 C269.78,814.5 270,811.02 272.7,806 C275.4,800.98 277.62,794.98 282.2,789.4 C286.78,783.82 295.03,777.37 300.2,772.5 C305.37,767.63 308.43,764.62 313.2,760.2 C317.97,755.78 323.75,749.95 328.8,746 C333.85,742.05 338.23,738.58 343.5,736.5 C348.77,734.42 355.12,734.18 360.4,733.5 C365.68,732.82 369.92,732.68 375.2,732.4 C380.48,732.12 386.82,731.62 392.1,731.8 C397.38,731.98 401.5,732.17 406.9,733.5 C412.3,734.83 420.27,736.98 424.5,739.8 C428.73,742.62 429.58,745.87 432.3,750.4 C435.02,754.93 437.98,762.85 440.8,767 C443.62,771.15 446.57,773.48 449.2,775.3 C451.83,777.12 452.88,777.05 456.6,777.9 C460.32,778.75 466.38,779.75 471.5,780.4 C476.62,781.05 480.43,781.23 487.3,781.8 C494.17,782.37 502.12,783.12 512.7,783.8 C523.28,784.48 544.45,785.55 550.8,785.9" fill="none" stroke="#e6161e" stroke-width="2.8" stroke-linecap="round" stroke-linejoin="round"/>
<line x1="250" y1="828.6" x2="250" y2="844.4" stroke="#e6161e" stroke-width="2.4" stroke-linecap="butt"/>
<line x1="244" y1="828.6" x2="256" y2="828.6" stroke="#e6161e" stroke-width="2.4" stroke-linecap="butt"/>
<line x1="244" y1="844.4" x2="256" y2="844.4" stroke="#e6161e" stroke-width="2.4" stroke-linecap="butt"/>
<rect x="246.4" y="832.4" width="7.2" height="7.2" fill="#fff" stroke="#e6161e" stroke-width="2.2"/>
<line x1="266" y1="800" x2="266" y2="838.1" stroke="#e6161e" stroke-width="2.4" stroke-linecap="butt"/>
<line x1="260" y1="800" x2="272" y2="800" stroke="#e6161e" stroke-width="2.4" stroke-linecap="butt"/>
<line x1="260" y1="838.1" x2="272" y2="838.1" stroke="#e6161e" stroke-width="2.4" stroke-linecap="butt"/>
<rect x="262.4" y="815.4" width="7.2" height="7.2" fill="#fff" stroke="#e6161e" stroke-width="2.2"/>
<line x1="282.2" y1="773.6" x2="282.2" y2="783.1" stroke="#e6161e" stroke-width="2.4" stroke-linecap="butt"/>
<line x1="276.2" y1="773.6" x2="288.2" y2="773.6" stroke="#e6161e" stroke-width="2.4" stroke-linecap="butt"/>
<line x1="276.2" y1="783.1" x2="288.2" y2="783.1" stroke="#e6161e" stroke-width="2.4" stroke-linecap="butt"/>
<rect x="278.6" y="774.2" width="7.2" height="7.2" fill="#fff" stroke="#e6161e" stroke-width="2.2"/>
<line x1="313.4" y1="750.4" x2="313.4" y2="768.4" stroke="#e6161e" stroke-width="2.4" stroke-linecap="butt"/>
<line x1="307.4" y1="750.4" x2="319.4" y2="750.4" stroke="#e6161e" stroke-width="2.4" stroke-linecap="butt"/>
<line x1="307.4" y1="768.4" x2="319.4" y2="768.4" stroke="#e6161e" stroke-width="2.4" stroke-linecap="butt"/>
<rect x="309.8" y="755.3" width="7.2" height="7.2" fill="#fff" stroke="#e6161e" stroke-width="2.2"/>
<line x1="329.7" y1="723.3" x2="329.7" y2="761.4" stroke="#e6161e" stroke-width="2.4" stroke-linecap="butt"/>
<line x1="323.7" y1="723.3" x2="335.7" y2="723.3" stroke="#e6161e" stroke-width="2.4" stroke-linecap="butt"/>
<line x1="323.7" y1="761.4" x2="335.7" y2="761.4" stroke="#e6161e" stroke-width="2.4" stroke-linecap="butt"/>
<rect x="326.1" y="738.8" width="7.2" height="7.2" fill="#fff" stroke="#e6161e" stroke-width="2.2"/>
<line x1="360.8" y1="728.2" x2="360.8" y2="752.1" stroke="#e6161e" stroke-width="2.4" stroke-linecap="butt"/>
<line x1="354.8" y1="728.2" x2="366.8" y2="728.2" stroke="#e6161e" stroke-width="2.4" stroke-linecap="butt"/>
<line x1="354.8" y1="752.1" x2="366.8" y2="752.1" stroke="#e6161e" stroke-width="2.4" stroke-linecap="butt"/>
<rect x="357.2" y="735.8" width="7.2" height="7.2" fill="#fff" stroke="#e6161e" stroke-width="2.2"/>
<line x1="392.5" y1="721.8" x2="392.5" y2="744.7" stroke="#e6161e" stroke-width="2.4" stroke-linecap="butt"/>
<line x1="386.5" y1="721.8" x2="398.5" y2="721.8" stroke="#e6161e" stroke-width="2.4" stroke-linecap="butt"/>
<line x1="386.5" y1="744.7" x2="398.5" y2="744.7" stroke="#e6161e" stroke-width="2.4" stroke-linecap="butt"/>
<rect x="388.9" y="728.8" width="7.2" height="7.2" fill="#fff" stroke="#e6161e" stroke-width="2.2"/>
<line x1="424.5" y1="731" x2="424.5" y2="752.5" stroke="#e6161e" stroke-width="2.4" stroke-linecap="butt"/>
<line x1="418.5" y1="731" x2="430.5" y2="731" stroke="#e6161e" stroke-width="2.4" stroke-linecap="butt"/>
<line x1="418.5" y1="752.5" x2="430.5" y2="752.5" stroke="#e6161e" stroke-width="2.4" stroke-linecap="butt"/>
<rect x="420.9" y="737.9" width="7.2" height="7.2" fill="#fff" stroke="#e6161e" stroke-width="2.2"/>
<line x1="440.4" y1="769.4" x2="440.4" y2="794.8" stroke="#e6161e" stroke-width="2.4" stroke-linecap="butt"/>
<line x1="434.4" y1="769.4" x2="446.4" y2="769.4" stroke="#e6161e" stroke-width="2.4" stroke-linecap="butt"/>
<line x1="434.4" y1="794.8" x2="446.4" y2="794.8" stroke="#e6161e" stroke-width="2.4" stroke-linecap="butt"/>
<rect x="436.8" y="779" width="7.2" height="7.2" fill="#fff" stroke="#e6161e" stroke-width="2.2"/>
<line x1="456" y1="767.3" x2="456" y2="798" stroke="#e6161e" stroke-width="2.4" stroke-linecap="butt"/>
<line x1="450" y1="767.3" x2="462" y2="767.3" stroke="#e6161e" stroke-width="2.4" stroke-linecap="butt"/>
<line x1="450" y1="798" x2="462" y2="798" stroke="#e6161e" stroke-width="2.4" stroke-linecap="butt"/>
<rect x="452.4" y="778.5" width="7.2" height="7.2" fill="#fff" stroke="#e6161e" stroke-width="2.2"/>
<line x1="471.5" y1="771.6" x2="471.5" y2="799" stroke="#e6161e" stroke-width="2.4" stroke-linecap="butt"/>
<line x1="465.5" y1="771.6" x2="477.5" y2="771.6" stroke="#e6161e" stroke-width="2.4" stroke-linecap="butt"/>
<line x1="465.5" y1="799" x2="477.5" y2="799" stroke="#e6161e" stroke-width="2.4" stroke-linecap="butt"/>
<rect x="467.9" y="784.9" width="7.2" height="7.2" fill="#fff" stroke="#e6161e" stroke-width="2.2"/>
<line x1="487.8" y1="746.2" x2="487.8" y2="780" stroke="#e6161e" stroke-width="2.4" stroke-linecap="butt"/>
<line x1="481.8" y1="746.2" x2="493.8" y2="746.2" stroke="#e6161e" stroke-width="2.4" stroke-linecap="butt"/>
<line x1="481.8" y1="780" x2="493.8" y2="780" stroke="#e6161e" stroke-width="2.4" stroke-linecap="butt"/>
<rect x="484.2" y="759.9" width="7.2" height="7.2" fill="#fff" stroke="#e6161e" stroke-width="2.2"/>
<rect x="547.6" y="781.7" width="7.2" height="7.2" fill="#fff" stroke="#e6161e" stroke-width="2.2"/>
<path d="M249.4,803.2 C252.05,799.57 261.42,788.43 265.3,781.4 C269.18,774.37 270.13,767.98 272.7,761 C275.27,754.02 277.17,747.45 280.7,739.5 C284.23,731.55 288.53,721.02 293.9,713.3 C299.27,705.58 307.13,698.42 312.9,693.2 C318.67,687.98 323.4,685.7 328.5,682 C333.6,678.3 337.48,675.65 343.5,671 C349.52,666.35 356.5,658.67 364.6,654.1 C372.7,649.53 382.22,646.95 392.1,643.6 C401.98,640.25 415.92,636.43 423.9,634 C431.88,631.57 434.72,630.75 440,629 C445.28,627.25 450.35,625.48 455.6,623.5 C460.85,621.52 467.27,618.68 471.5,617.1 C475.73,615.52 467.78,617.45 481,614 C494.22,610.55 539.17,599.33 550.8,596.4" fill="none" stroke="#000" stroke-width="2.8" stroke-linecap="round" stroke-linejoin="round"/>
<line x1="249.4" y1="800" x2="249.4" y2="806" stroke="#000" stroke-width="2.4" stroke-linecap="butt"/>
<line x1="243.4" y1="800" x2="255.4" y2="800" stroke="#000" stroke-width="2.4" stroke-linecap="butt"/>
<line x1="243.4" y1="806" x2="255.4" y2="806" stroke="#000" stroke-width="2.4" stroke-linecap="butt"/>
<circle cx="249.4" cy="803.2" r="3.4" fill="#fff" stroke="#000" stroke-width="2.2"/>
<line x1="265.3" y1="773.6" x2="265.3" y2="793.7" stroke="#000" stroke-width="2.4" stroke-linecap="butt"/>
<line x1="259.3" y1="773.6" x2="271.3" y2="773.6" stroke="#000" stroke-width="2.4" stroke-linecap="butt"/>
<line x1="259.3" y1="793.7" x2="271.3" y2="793.7" stroke="#000" stroke-width="2.4" stroke-linecap="butt"/>
<circle cx="265.3" cy="781.4" r="3.4" fill="#fff" stroke="#000" stroke-width="2.2"/>
<line x1="281.4" y1="731" x2="281.4" y2="739.7" stroke="#000" stroke-width="2.4" stroke-linecap="butt"/>
<line x1="275.4" y1="731" x2="287.4" y2="731" stroke="#000" stroke-width="2.4" stroke-linecap="butt"/>
<line x1="275.4" y1="739.7" x2="287.4" y2="739.7" stroke="#000" stroke-width="2.4" stroke-linecap="butt"/>
<circle cx="281.4" cy="735" r="3.4" fill="#fff" stroke="#000" stroke-width="2.2"/>
<line x1="312.8" y1="680.2" x2="312.8" y2="698.6" stroke="#000" stroke-width="2.4" stroke-linecap="butt"/>
<line x1="306.8" y1="680.2" x2="318.8" y2="680.2" stroke="#000" stroke-width="2.4" stroke-linecap="butt"/>
<line x1="306.8" y1="698.6" x2="318.8" y2="698.6" stroke="#000" stroke-width="2.4" stroke-linecap="butt"/>
<circle cx="312.8" cy="688" r="3.4" fill="#fff" stroke="#000" stroke-width="2.2"/>
<line x1="328.7" y1="681.6" x2="328.7" y2="691.2" stroke="#000" stroke-width="2.4" stroke-linecap="butt"/>
<line x1="322.7" y1="681.6" x2="334.7" y2="681.6" stroke="#000" stroke-width="2.4" stroke-linecap="butt"/>
<line x1="322.7" y1="691.2" x2="334.7" y2="691.2" stroke="#000" stroke-width="2.4" stroke-linecap="butt"/>
<circle cx="328.7" cy="684.8" r="3.4" fill="#fff" stroke="#000" stroke-width="2.2"/>
<line x1="343.9" y1="666.8" x2="343.9" y2="688" stroke="#000" stroke-width="2.4" stroke-linecap="butt"/>
<line x1="337.9" y1="666.8" x2="349.9" y2="666.8" stroke="#000" stroke-width="2.4" stroke-linecap="butt"/>
<line x1="337.9" y1="688" x2="349.9" y2="688" stroke="#000" stroke-width="2.4" stroke-linecap="butt"/>
<circle cx="343.9" cy="675.9" r="3.4" fill="#fff" stroke="#000" stroke-width="2.2"/>
<line x1="360.4" y1="641.4" x2="360.4" y2="674.2" stroke="#000" stroke-width="2.4" stroke-linecap="butt"/>
<line x1="354.4" y1="641.4" x2="366.4" y2="641.4" stroke="#000" stroke-width="2.4" stroke-linecap="butt"/>
<line x1="354.4" y1="674.2" x2="366.4" y2="674.2" stroke="#000" stroke-width="2.4" stroke-linecap="butt"/>
<circle cx="360.4" cy="656.9" r="3.4" fill="#fff" stroke="#000" stroke-width="2.2"/>
<line x1="392.1" y1="634" x2="392.1" y2="645.7" stroke="#000" stroke-width="2.4" stroke-linecap="butt"/>
<line x1="386.1" y1="634" x2="398.1" y2="634" stroke="#000" stroke-width="2.4" stroke-linecap="butt"/>
<line x1="386.1" y1="645.7" x2="398.1" y2="645.7" stroke="#000" stroke-width="2.4" stroke-linecap="butt"/>
<circle cx="392.1" cy="640" r="3.4" fill="#fff" stroke="#000" stroke-width="2.2"/>
<line x1="424.3" y1="627.3" x2="424.3" y2="648.9" stroke="#000" stroke-width="2.4" stroke-linecap="butt"/>
<line x1="418.3" y1="627.3" x2="430.3" y2="627.3" stroke="#000" stroke-width="2.4" stroke-linecap="butt"/>
<line x1="418.3" y1="648.9" x2="430.3" y2="648.9" stroke="#000" stroke-width="2.4" stroke-linecap="butt"/>
<circle cx="424.3" cy="636.2" r="3.4" fill="#fff" stroke="#000" stroke-width="2.2"/>
<line x1="440.4" y1="624.5" x2="440.4" y2="646.7" stroke="#000" stroke-width="2.4" stroke-linecap="butt"/>
<line x1="434.4" y1="624.5" x2="446.4" y2="624.5" stroke="#000" stroke-width="2.4" stroke-linecap="butt"/>
<line x1="434.4" y1="646.7" x2="446.4" y2="646.7" stroke="#000" stroke-width="2.4" stroke-linecap="butt"/>
<circle cx="440.4" cy="634" r="3.4" fill="#fff" stroke="#000" stroke-width="2.2"/>
<line x1="456" y1="625.6" x2="456" y2="637.2" stroke="#000" stroke-width="2.4" stroke-linecap="butt"/>
<line x1="450" y1="625.6" x2="462" y2="625.6" stroke="#000" stroke-width="2.4" stroke-linecap="butt"/>
<line x1="450" y1="637.2" x2="462" y2="637.2" stroke="#000" stroke-width="2.4" stroke-linecap="butt"/>
<circle cx="456" cy="630.2" r="3.4" fill="#fff" stroke="#000" stroke-width="2.2"/>
<line x1="471.5" y1="609.7" x2="471.5" y2="623.9" stroke="#000" stroke-width="2.4" stroke-linecap="butt"/>
<line x1="465.5" y1="609.7" x2="477.5" y2="609.7" stroke="#000" stroke-width="2.4" stroke-linecap="butt"/>
<line x1="465.5" y1="623.9" x2="477.5" y2="623.9" stroke="#000" stroke-width="2.4" stroke-linecap="butt"/>
<circle cx="471.5" cy="615.4" r="3.4" fill="#fff" stroke="#000" stroke-width="2.2"/>
<line x1="550.8" y1="584.3" x2="550.8" y2="598.5" stroke="#000" stroke-width="2.4" stroke-linecap="butt"/>
<line x1="544.8" y1="584.3" x2="556.8" y2="584.3" stroke="#000" stroke-width="2.4" stroke-linecap="butt"/>
<line x1="544.8" y1="598.5" x2="556.8" y2="598.5" stroke="#000" stroke-width="2.4" stroke-linecap="butt"/>
<circle cx="550.8" cy="589.6" r="3.4" fill="#fff" stroke="#000" stroke-width="2.2"/>
<text transform="translate(709.92,551.24) scale(1.04,1)" style="font-family:'Liberation Sans',sans-serif;font-size:55.65px;font-weight:bold;font-style:normal" fill="#000">d</text>
<line x1="906.1" y1="565.6" x2="906.1" y2="893.9" stroke="#000" stroke-width="2.7" stroke-linecap="butt"/>
<line x1="892.4" y1="892.6" x2="906.1" y2="892.6" stroke="#000" stroke-width="2.7" stroke-linecap="butt"/>
<line x1="892.4" y1="838.1" x2="906.1" y2="838.1" stroke="#000" stroke-width="2.7" stroke-linecap="butt"/>
<line x1="892.4" y1="783.6" x2="906.1" y2="783.6" stroke="#000" stroke-width="2.7" stroke-linecap="butt"/>
<line x1="892.4" y1="729.1" x2="906.1" y2="729.1" stroke="#000" stroke-width="2.7" stroke-linecap="butt"/>
<line x1="892.4" y1="674.6" x2="906.1" y2="674.6" stroke="#000" stroke-width="2.7" stroke-linecap="butt"/>
<line x1="892.4" y1="620.1" x2="906.1" y2="620.1" stroke="#000" stroke-width="2.7" stroke-linecap="butt"/>
<line x1="892.4" y1="565.6" x2="906.1" y2="565.6" stroke="#000" stroke-width="2.7" stroke-linecap="butt"/>
<line x1="892.4" y1="892.6" x2="1361" y2="892.6" stroke="#000" stroke-width="2.7" stroke-linecap="butt"/>
<line x1="906.1" y1="892.6" x2="906.1" y2="906.6" stroke="#000" stroke-width="2.7" stroke-linecap="butt"/>
<line x1="934.45" y1="892.6" x2="934.45" y2="903.6" stroke="#000" stroke-width="2.7" stroke-linecap="butt"/>
<line x1="962.8" y1="892.6" x2="962.8" y2="903.6" stroke="#000" stroke-width="2.7" stroke-linecap="butt"/>
<line x1="991.15" y1="892.6" x2="991.15" y2="903.6" stroke="#000" stroke-width="2.7" stroke-linecap="butt"/>
<line x1="1019.5" y1="892.6" x2="1019.5" y2="906.6" stroke="#000" stroke-width="2.7" stroke-linecap="butt"/>
<line x1="1047.85" y1="892.6" x2="1047.85" y2="903.6" stroke="#000" stroke-width="2.7" stroke-linecap="butt"/>
<line x1="1076.2" y1="892.6" x2="1076.2" y2="903.6" stroke="#000" stroke-width="2.7" stroke-linecap="butt"/>
<line x1="1104.55" y1="892.6" x2="1104.55" y2="903.6" stroke="#000" stroke-width="2.7" stroke-linecap="butt"/>
<line x1="1132.9" y1="892.6" x2="1132.9" y2="906.6" stroke="#000" stroke-width="2.7" stroke-linecap="butt"/>
<line x1="1161.25" y1="892.6" x2="1161.25" y2="903.6" stroke="#000" stroke-width="2.7" stroke-linecap="butt"/>
<line x1="1189.6" y1="892.6" x2="1189.6" y2="903.6" stroke="#000" stroke-width="2.7" stroke-linecap="butt"/>
<line x1="1217.95" y1="892.6" x2="1217.95" y2="903.6" stroke="#000" stroke-width="2.7" stroke-linecap="butt"/>
<line x1="1246.3" y1="892.6" x2="1246.3" y2="906.6" stroke="#000" stroke-width="2.7" stroke-linecap="butt"/>
<line x1="1274.65" y1="892.6" x2="1274.65" y2="903.6" stroke="#000" stroke-width="2.7" stroke-linecap="butt"/>
<line x1="1303" y1="892.6" x2="1303" y2="903.6" stroke="#000" stroke-width="2.7" stroke-linecap="butt"/>
<line x1="1331.35" y1="892.6" x2="1331.35" y2="903.6" stroke="#000" stroke-width="2.7" stroke-linecap="butt"/>
<line x1="1359.7" y1="892.6" x2="1359.7" y2="906.6" stroke="#000" stroke-width="2.7" stroke-linecap="butt"/>
<text transform="translate(846.52,792.82) scale(0.96,1)" style="font-family:'Liberation Sans',sans-serif;font-size:39px;font-weight:normal;font-style:normal" fill="#000">10</text>
<text transform="translate(846.63,738.12) scale(0.96,1)" style="font-family:'Liberation Sans',sans-serif;font-size:39px;font-weight:normal;font-style:normal" fill="#000">15</text>
<text transform="translate(846.52,683.82) scale(0.96,1)" style="font-family:'Liberation Sans',sans-serif;font-size:39px;font-weight:normal;font-style:normal" fill="#000">20</text>
<text transform="translate(846.63,629.32) scale(0.96,1)" style="font-family:'Liberation Sans',sans-serif;font-size:39px;font-weight:normal;font-style:normal" fill="#000">25</text>
<text transform="translate(846.52,574.82) scale(0.96,1)" style="font-family:'Liberation Sans',sans-serif;font-size:39px;font-weight:normal;font-style:normal" fill="#000">30</text>
<text transform="translate(866.86,847.12) scale(0.96,1)" style="font-family:'Liberation Sans',sans-serif;font-size:39px;font-weight:normal;font-style:normal" fill="#000">5</text>
<text transform="translate(866.24,901.82) scale(0.96,1)" style="font-family:'Liberation Sans',sans-serif;font-size:39px;font-weight:normal;font-style:normal" fill="#000">0</text>
<text transform="translate(898.74,941.31) scale(0.96,1)" style="font-family:'Liberation Sans',sans-serif;font-size:39px;font-weight:normal;font-style:normal" fill="#000">0</text>
<text transform="translate(1005.08,941.31) scale(0.96,1)" style="font-family:'Liberation Sans',sans-serif;font-size:39px;font-weight:normal;font-style:normal" fill="#000">40</text>
<text transform="translate(1118.9,941.31) scale(0.96,1)" style="font-family:'Liberation Sans',sans-serif;font-size:39px;font-weight:normal;font-style:normal" fill="#000">80</text>
<text transform="translate(1225.32,941.31) scale(0.96,1)" style="font-family:'Liberation Sans',sans-serif;font-size:39px;font-weight:normal;font-style:normal" fill="#000">120</text>
<text transform="translate(1339.42,941.31) scale(0.96,1)" style="font-family:'Liberation Sans',sans-serif;font-size:39px;font-weight:normal;font-style:normal" fill="#000">160</text>
<text transform="translate(1067.52,985.2) scale(0.96,1)" style="font-family:'Liberation Sans',sans-serif;font-size:39.5px;font-weight:normal;font-style:normal" fill="#000">Age (Days)</text>
<text transform="translate(813.8,843.04) rotate(-90) scale(0.98,1)" style="font-family:'Liberation Sans',sans-serif;font-size:39px;font-weight:normal;font-style:normal" fill="#000">Body Weight (g)</text>
<line x1="1358.3" y1="632.3" x2="1358.3" y2="758.6" stroke="#000" stroke-width="2.5" stroke-linecap="butt"/>
<circle cx="1379.2" cy="702.5" r="1.35" fill="#000"/>
<circle cx="1383.44" cy="704.95" r="1.35" fill="#000"/>
<circle cx="1383.44" cy="709.85" r="1.35" fill="#000"/>
<circle cx="1379.2" cy="712.3" r="1.35" fill="#000"/>
<circle cx="1374.96" cy="709.85" r="1.35" fill="#000"/>
<circle cx="1374.96" cy="704.95" r="1.35" fill="#000"/>
<path d="M1379.5,707.4 L1380.28,702.9 L1378.12,702.9 L1378.9,707.4Z M1379.35,707.66 L1383.63,706.09 L1382.55,704.22 L1379.05,707.14Z M1379.05,707.66 L1382.55,710.58 L1383.63,708.71 L1379.35,707.14Z M1378.9,707.4 L1378.12,711.89 L1380.28,711.89 L1379.5,707.4Z M1379.05,707.14 L1374.77,708.71 L1375.85,710.58 L1379.35,707.66Z M1379.35,707.14 L1375.85,704.22 L1374.77,706.09 L1379.05,707.66Z " fill="#000"/>
<circle cx="1395.2" cy="702.5" r="1.35" fill="#000"/>
<circle cx="1399.44" cy="704.95" r="1.35" fill="#000"/>
<circle cx="1399.44" cy="709.85" r="1.35" fill="#000"/>
<circle cx="1395.2" cy="712.3" r="1.35" fill="#000"/>
<circle cx="1390.96" cy="709.85" r="1.35" fill="#000"/>
<circle cx="1390.96" cy="704.95" r="1.35" fill="#000"/>
<path d="M1395.5,707.4 L1396.28,702.9 L1394.12,702.9 L1394.9,707.4Z M1395.35,707.66 L1399.63,706.09 L1398.55,704.22 L1395.05,707.14Z M1395.05,707.66 L1398.55,710.58 L1399.63,708.71 L1395.35,707.14Z M1394.9,707.4 L1394.12,711.89 L1396.28,711.89 L1395.5,707.4Z M1395.05,707.14 L1390.77,708.71 L1391.85,710.58 L1395.35,707.66Z M1395.35,707.14 L1391.85,704.22 L1390.77,706.09 L1395.05,707.66Z " fill="#000"/>
<circle cx="1411.2" cy="702.5" r="1.35" fill="#000"/>
<circle cx="1415.44" cy="704.95" r="1.35" fill="#000"/>
<circle cx="1415.44" cy="709.85" r="1.35" fill="#000"/>
<circle cx="1411.2" cy="712.3" r="1.35" fill="#000"/>
<circle cx="1406.96" cy="709.85" r="1.35" fill="#000"/>
<circle cx="1406.96" cy="704.95" r="1.35" fill="#000"/>
<path d="M1411.5,707.4 L1412.28,702.9 L1410.12,702.9 L1410.9,707.4Z M1411.35,707.66 L1415.63,706.09 L1414.55,704.22 L1411.05,707.14Z M1411.05,707.66 L1414.55,710.58 L1415.63,708.71 L1411.35,707.14Z M1410.9,707.4 L1410.12,711.89 L1412.28,711.89 L1411.5,707.4Z M1411.05,707.14 L1406.77,708.71 L1407.85,710.58 L1411.35,707.66Z M1411.35,707.14 L1407.85,704.22 L1406.77,706.09 L1411.05,707.66Z " fill="#000"/>
<circle cx="958.6" cy="574.9" r="3.9" fill="#fff" stroke="#000" stroke-width="2.2"/>
<rect x="955.7" y="609" width="7.8" height="7.8" fill="#fff" stroke="#e6161e" stroke-width="2.2"/>
<text transform="translate(977.62,584.6) scale(1,1)" style="font-family:'Liberation Sans',sans-serif;font-size:38.5px;font-weight:normal;font-style:normal" fill="#000">AIF</text>
<text transform="translate(980.12,623.1) scale(1,1)" style="font-family:'Liberation Sans',sans-serif;font-size:38.5px;font-weight:normal;font-style:normal" fill="#000">AIF3</text>
<path d="M977,795.5 C980.83,792.75 992.07,784.28 1000,779 C1007.93,773.72 1016.62,768.45 1024.6,763.8 C1032.58,759.15 1039.25,755.33 1047.9,751.1 C1056.55,746.87 1066.1,742.22 1076.5,738.4 C1086.9,734.58 1102.38,730.5 1110.3,728.2 C1118.22,725.9 1117.12,725.37 1124,724.6 C1130.88,723.83 1142.95,723.88 1151.6,723.6 C1160.25,723.32 1163.72,723.07 1175.9,722.9 C1188.08,722.73 1216.57,722.65 1224.7,722.6" fill="none" stroke="#e6161e" stroke-width="2.8" stroke-linecap="round" stroke-linejoin="round"/>
<line x1="977" y1="787" x2="977" y2="799.7" stroke="#e6161e" stroke-width="2.4" stroke-linecap="butt"/>
<line x1="971" y1="787" x2="983" y2="787" stroke="#e6161e" stroke-width="2.4" stroke-linecap="butt"/>
<line x1="971" y1="799.7" x2="983" y2="799.7" stroke="#e6161e" stroke-width="2.4" stroke-linecap="butt"/>
<rect x="973.4" y="789.8" width="7.2" height="7.2" fill="#fff" stroke="#e6161e" stroke-width="2.2"/>
<line x1="1019.3" y1="739" x2="1019.3" y2="745.5" stroke="#e6161e" stroke-width="2.4" stroke-linecap="butt"/>
<line x1="1013.3" y1="739" x2="1025.3" y2="739" stroke="#e6161e" stroke-width="2.4" stroke-linecap="butt"/>
<line x1="1013.3" y1="745.5" x2="1025.3" y2="745.5" stroke="#e6161e" stroke-width="2.4" stroke-linecap="butt"/>
<rect x="1015.7" y="738.6" width="7.2" height="7.2" fill="#fff" stroke="#e6161e" stroke-width="2.2"/>
<line x1="1033.7" y1="716" x2="1033.7" y2="723.5" stroke="#e6161e" stroke-width="2.4" stroke-linecap="butt"/>
<line x1="1027.7" y1="716" x2="1039.7" y2="716" stroke="#e6161e" stroke-width="2.4" stroke-linecap="butt"/>
<line x1="1027.7" y1="723.5" x2="1039.7" y2="723.5" stroke="#e6161e" stroke-width="2.4" stroke-linecap="butt"/>
<rect x="1030.1" y="716.2" width="7.2" height="7.2" fill="#fff" stroke="#e6161e" stroke-width="2.2"/>
<line x1="1047.9" y1="736.9" x2="1047.9" y2="759.5" stroke="#e6161e" stroke-width="2.4" stroke-linecap="butt"/>
<line x1="1041.9" y1="736.9" x2="1053.9" y2="736.9" stroke="#e6161e" stroke-width="2.4" stroke-linecap="butt"/>
<line x1="1041.9" y1="759.5" x2="1053.9" y2="759.5" stroke="#e6161e" stroke-width="2.4" stroke-linecap="butt"/>
<rect x="1044.3" y="744.3" width="7.2" height="7.2" fill="#fff" stroke="#e6161e" stroke-width="2.2"/>
<line x1="1076" y1="731" x2="1076" y2="743.7" stroke="#e6161e" stroke-width="2.4" stroke-linecap="butt"/>
<line x1="1070" y1="731" x2="1082" y2="731" stroke="#e6161e" stroke-width="2.4" stroke-linecap="butt"/>
<line x1="1070" y1="743.7" x2="1082" y2="743.7" stroke="#e6161e" stroke-width="2.4" stroke-linecap="butt"/>
<rect x="1072.4" y="733.7" width="7.2" height="7.2" fill="#fff" stroke="#e6161e" stroke-width="2.2"/>
<line x1="1110.3" y1="722.5" x2="1110.3" y2="734.2" stroke="#e6161e" stroke-width="2.4" stroke-linecap="butt"/>
<line x1="1104.3" y1="722.5" x2="1116.3" y2="722.5" stroke="#e6161e" stroke-width="2.4" stroke-linecap="butt"/>
<line x1="1104.3" y1="734.2" x2="1116.3" y2="734.2" stroke="#e6161e" stroke-width="2.4" stroke-linecap="butt"/>
<rect x="1106.7" y="724.6" width="7.2" height="7.2" fill="#fff" stroke="#e6161e" stroke-width="2.2"/>
<line x1="1118.8" y1="756.4" x2="1118.8" y2="771.2" stroke="#e6161e" stroke-width="2.4" stroke-linecap="butt"/>
<line x1="1112.8" y1="756.4" x2="1124.8" y2="756.4" stroke="#e6161e" stroke-width="2.4" stroke-linecap="butt"/>
<line x1="1112.8" y1="771.2" x2="1124.8" y2="771.2" stroke="#e6161e" stroke-width="2.4" stroke-linecap="butt"/>
<rect x="1115.2" y="759.1" width="7.2" height="7.2" fill="#fff" stroke="#e6161e" stroke-width="2.2"/>
<line x1="1127.2" y1="744.7" x2="1127.2" y2="773.3" stroke="#e6161e" stroke-width="2.4" stroke-linecap="butt"/>
<line x1="1121.2" y1="744.7" x2="1133.2" y2="744.7" stroke="#e6161e" stroke-width="2.4" stroke-linecap="butt"/>
<line x1="1121.2" y1="773.3" x2="1133.2" y2="773.3" stroke="#e6161e" stroke-width="2.4" stroke-linecap="butt"/>
<rect x="1123.6" y="755.9" width="7.2" height="7.2" fill="#fff" stroke="#e6161e" stroke-width="2.2"/>
<line x1="1161.2" y1="755.6" x2="1161.2" y2="775.5" stroke="#e6161e" stroke-width="2.4" stroke-linecap="butt"/>
<line x1="1155.2" y1="755.6" x2="1167.2" y2="755.6" stroke="#e6161e" stroke-width="2.4" stroke-linecap="butt"/>
<line x1="1155.2" y1="775.5" x2="1167.2" y2="775.5" stroke="#e6161e" stroke-width="2.4" stroke-linecap="butt"/>
<rect x="1157.6" y="762" width="7.2" height="7.2" fill="#fff" stroke="#e6161e" stroke-width="2.2"/>
<line x1="1175.8" y1="715.7" x2="1175.8" y2="732" stroke="#e6161e" stroke-width="2.4" stroke-linecap="butt"/>
<line x1="1169.8" y1="715.7" x2="1181.8" y2="715.7" stroke="#e6161e" stroke-width="2.4" stroke-linecap="butt"/>
<line x1="1169.8" y1="732" x2="1181.8" y2="732" stroke="#e6161e" stroke-width="2.4" stroke-linecap="butt"/>
<rect x="1172.2" y="720.1" width="7.2" height="7.2" fill="#fff" stroke="#e6161e" stroke-width="2.2"/>
<rect x="1220" y="732.9" width="7.2" height="7.2" fill="#fff" stroke="#e6161e" stroke-width="2.2"/>
<polyline points="976,767 997,741 1018.3,716.2 1046.8,699.2 1075.4,684 1092.3,676 1117.7,661.2 1130.4,655.9 1160,649.1 1193.9,645.3 1224,642.8 1280,642.3 1331,642" fill="none" stroke="#000" stroke-width="2.8" stroke-linejoin="round" stroke-linecap="round"/>
<line x1="976" y1="761.6" x2="976" y2="770" stroke="#000" stroke-width="2.4" stroke-linecap="butt"/>
<line x1="970" y1="761.6" x2="982" y2="761.6" stroke="#000" stroke-width="2.4" stroke-linecap="butt"/>
<line x1="970" y1="770" x2="982" y2="770" stroke="#000" stroke-width="2.4" stroke-linecap="butt"/>
<circle cx="976" cy="764.8" r="3.4" fill="#fff" stroke="#000" stroke-width="2.2"/>
<line x1="1018.3" y1="711.5" x2="1018.3" y2="720.4" stroke="#000" stroke-width="2.4" stroke-linecap="butt"/>
<line x1="1012.3" y1="711.5" x2="1024.3" y2="711.5" stroke="#000" stroke-width="2.4" stroke-linecap="butt"/>
<line x1="1012.3" y1="720.4" x2="1024.3" y2="720.4" stroke="#000" stroke-width="2.4" stroke-linecap="butt"/>
<circle cx="1018.3" cy="715.1" r="3.4" fill="#fff" stroke="#000" stroke-width="2.2"/>
<line x1="1032" y1="693.5" x2="1032" y2="717.2" stroke="#000" stroke-width="2.4" stroke-linecap="butt"/>
<line x1="1026" y1="693.5" x2="1038" y2="693.5" stroke="#000" stroke-width="2.4" stroke-linecap="butt"/>
<line x1="1026" y1="717.2" x2="1038" y2="717.2" stroke="#000" stroke-width="2.4" stroke-linecap="butt"/>
<circle cx="1032" cy="705.6" r="3.4" fill="#fff" stroke="#000" stroke-width="2.2"/>
<line x1="1046.8" y1="692.9" x2="1046.8" y2="701.4" stroke="#000" stroke-width="2.4" stroke-linecap="butt"/>
<line x1="1040.8" y1="692.9" x2="1052.8" y2="692.9" stroke="#000" stroke-width="2.4" stroke-linecap="butt"/>
<line x1="1040.8" y1="701.4" x2="1052.8" y2="701.4" stroke="#000" stroke-width="2.4" stroke-linecap="butt"/>
<circle cx="1046.8" cy="696.1" r="3.4" fill="#fff" stroke="#000" stroke-width="2.2"/>
<line x1="1075" y1="681.3" x2="1075" y2="691.2" stroke="#000" stroke-width="2.4" stroke-linecap="butt"/>
<line x1="1069" y1="681.3" x2="1081" y2="681.3" stroke="#000" stroke-width="2.4" stroke-linecap="butt"/>
<line x1="1069" y1="691.2" x2="1081" y2="691.2" stroke="#000" stroke-width="2.4" stroke-linecap="butt"/>
<circle cx="1075" cy="685.5" r="3.4" fill="#fff" stroke="#000" stroke-width="2.2"/>
<line x1="1109.2" y1="668.6" x2="1109.2" y2="686.5" stroke="#000" stroke-width="2.4" stroke-linecap="butt"/>
<line x1="1103.2" y1="668.6" x2="1115.2" y2="668.6" stroke="#000" stroke-width="2.4" stroke-linecap="butt"/>
<line x1="1103.2" y1="686.5" x2="1115.2" y2="686.5" stroke="#000" stroke-width="2.4" stroke-linecap="butt"/>
<circle cx="1109.2" cy="676.6" r="3.4" fill="#fff" stroke="#000" stroke-width="2.2"/>
<line x1="1117.7" y1="659" x2="1117.7" y2="672.8" stroke="#000" stroke-width="2.4" stroke-linecap="butt"/>
<line x1="1111.7" y1="659" x2="1123.7" y2="659" stroke="#000" stroke-width="2.4" stroke-linecap="butt"/>
<line x1="1111.7" y1="672.8" x2="1123.7" y2="672.8" stroke="#000" stroke-width="2.4" stroke-linecap="butt"/>
<circle cx="1117.7" cy="665.4" r="3.4" fill="#fff" stroke="#000" stroke-width="2.2"/>
<line x1="1126.2" y1="640" x2="1126.2" y2="662.2" stroke="#000" stroke-width="2.4" stroke-linecap="butt"/>
<line x1="1120.2" y1="640" x2="1132.2" y2="640" stroke="#000" stroke-width="2.4" stroke-linecap="butt"/>
<line x1="1120.2" y1="662.2" x2="1132.2" y2="662.2" stroke="#000" stroke-width="2.4" stroke-linecap="butt"/>
<circle cx="1126.2" cy="649.5" r="3.4" fill="#fff" stroke="#000" stroke-width="2.2"/>
<line x1="1160.6" y1="641.1" x2="1160.6" y2="658" stroke="#000" stroke-width="2.4" stroke-linecap="butt"/>
<line x1="1154.6" y1="641.1" x2="1166.6" y2="641.1" stroke="#000" stroke-width="2.4" stroke-linecap="butt"/>
<line x1="1154.6" y1="658" x2="1166.6" y2="658" stroke="#000" stroke-width="2.4" stroke-linecap="butt"/>
<circle cx="1160.6" cy="649.1" r="3.4" fill="#fff" stroke="#000" stroke-width="2.2"/>
<line x1="1175" y1="641.1" x2="1175" y2="660.5" stroke="#000" stroke-width="2.4" stroke-linecap="butt"/>
<line x1="1169" y1="641.1" x2="1181" y2="641.1" stroke="#000" stroke-width="2.4" stroke-linecap="butt"/>
<line x1="1169" y1="660.5" x2="1181" y2="660.5" stroke="#000" stroke-width="2.4" stroke-linecap="butt"/>
<circle cx="1175" cy="650.3" r="3.4" fill="#fff" stroke="#000" stroke-width="2.2"/>
<line x1="1223.4" y1="626.9" x2="1223.4" y2="660.2" stroke="#000" stroke-width="2.4" stroke-linecap="butt"/>
<line x1="1217.4" y1="626.9" x2="1229.4" y2="626.9" stroke="#000" stroke-width="2.4" stroke-linecap="butt"/>
<line x1="1217.4" y1="660.2" x2="1229.4" y2="660.2" stroke="#000" stroke-width="2.4" stroke-linecap="butt"/>
<circle cx="1223.4" cy="642.7" r="3.4" fill="#fff" stroke="#000" stroke-width="2.2"/>
<line x1="1331.1" y1="637.9" x2="1331.1" y2="660.4" stroke="#000" stroke-width="2.4" stroke-linecap="butt"/>
<line x1="1325.1" y1="637.9" x2="1337.1" y2="637.9" stroke="#000" stroke-width="2.4" stroke-linecap="butt"/>
<line x1="1325.1" y1="660.4" x2="1337.1" y2="660.4" stroke="#000" stroke-width="2.4" stroke-linecap="butt"/>
<circle cx="1331.1" cy="647.7" r="3.4" fill="#fff" stroke="#000" stroke-width="2.2"/>
<text transform="translate(3.38,1023.44) scale(1.01,1)" style="font-family:'Liberation Sans',sans-serif;font-size:56.39px;font-weight:bold;font-style:normal" fill="#000">e</text>
<line x1="175.7" y1="1066.42" x2="175.7" y2="1382.6" stroke="#000" stroke-width="2.7" stroke-linecap="butt"/>
<line x1="162.3" y1="1381.3" x2="175.7" y2="1381.3" stroke="#000" stroke-width="2.7" stroke-linecap="butt"/>
<line x1="162.3" y1="1302.58" x2="175.7" y2="1302.58" stroke="#000" stroke-width="2.7" stroke-linecap="butt"/>
<line x1="162.3" y1="1223.86" x2="175.7" y2="1223.86" stroke="#000" stroke-width="2.7" stroke-linecap="butt"/>
<line x1="162.3" y1="1145.14" x2="175.7" y2="1145.14" stroke="#000" stroke-width="2.7" stroke-linecap="butt"/>
<line x1="162.3" y1="1066.42" x2="175.7" y2="1066.42" stroke="#000" stroke-width="2.7" stroke-linecap="butt"/>
<line x1="162.3" y1="1381.3" x2="607.2" y2="1381.3" stroke="#000" stroke-width="2.7" stroke-linecap="butt"/>
<line x1="281" y1="1381.3" x2="281" y2="1394.3" stroke="#000" stroke-width="2.7" stroke-linecap="butt"/>
<line x1="498.2" y1="1381.3" x2="498.2" y2="1394.3" stroke="#000" stroke-width="2.7" stroke-linecap="butt"/>
<text transform="translate(117.22,1312.3) scale(0.96,1)" style="font-family:'Liberation Sans',sans-serif;font-size:39px;font-weight:normal;font-style:normal" fill="#000">20</text>
<text transform="translate(117.22,1233.58) scale(0.96,1)" style="font-family:'Liberation Sans',sans-serif;font-size:39px;font-weight:normal;font-style:normal" fill="#000">40</text>
<text transform="translate(117.22,1154.86) scale(0.96,1)" style="font-family:'Liberation Sans',sans-serif;font-size:39px;font-weight:normal;font-style:normal" fill="#000">60</text>
<text transform="translate(117.22,1076.14) scale(0.96,1)" style="font-family:'Liberation Sans',sans-serif;font-size:39px;font-weight:normal;font-style:normal" fill="#000">80</text>
<text transform="translate(136.04,1391.02) scale(0.96,1)" style="font-family:'Liberation Sans',sans-serif;font-size:39px;font-weight:normal;font-style:normal" fill="#000">0</text>
<text transform="translate(74.9,1380.57) rotate(-90) scale(0.94,1)" style="font-family:'Liberation Sans',sans-serif;font-size:39px;font-weight:normal;font-style:normal" fill="#000">Central Distance (%)</text>
<text transform="translate(289,1421) rotate(-45) scale(0.96,1)" text-anchor="end" style="font-family:'Liberation Sans',sans-serif;font-size:39px" fill="#000">AIF</text>
<text transform="translate(515,1418.8) rotate(-45) scale(0.96,1)" text-anchor="end" style="font-family:'Liberation Sans',sans-serif;font-size:39px" fill="#000">AIF3</text>
<line x1="282.5" y1="1072.8" x2="493.6" y2="1072.8" stroke="#000" stroke-width="2.6" stroke-linecap="round"/>
<circle cx="377" cy="1046.9" r="1.7" fill="#000"/>
<circle cx="382.28" cy="1049.95" r="1.7" fill="#000"/>
<circle cx="382.28" cy="1056.05" r="1.7" fill="#000"/>
<circle cx="377" cy="1059.1" r="1.7" fill="#000"/>
<circle cx="371.72" cy="1056.05" r="1.7" fill="#000"/>
<circle cx="371.72" cy="1049.95" r="1.7" fill="#000"/>
<path d="M377.3,1053 L378.36,1047.41 L375.64,1047.41 L376.7,1053Z M377.15,1053.26 L382.52,1051.38 L381.16,1049.03 L376.85,1052.74Z M376.85,1053.26 L381.16,1056.97 L382.52,1054.62 L377.15,1052.74Z M376.7,1053 L375.64,1058.59 L378.36,1058.59 L377.3,1053Z M376.85,1052.74 L371.48,1054.62 L372.84,1056.97 L377.15,1053.26Z M377.15,1052.74 L372.84,1049.03 L371.48,1051.38 L376.85,1053.26Z " fill="#000"/>
<circle cx="394.4" cy="1046.9" r="1.7" fill="#000"/>
<circle cx="399.68" cy="1049.95" r="1.7" fill="#000"/>
<circle cx="399.68" cy="1056.05" r="1.7" fill="#000"/>
<circle cx="394.4" cy="1059.1" r="1.7" fill="#000"/>
<circle cx="389.12" cy="1056.05" r="1.7" fill="#000"/>
<circle cx="389.12" cy="1049.95" r="1.7" fill="#000"/>
<path d="M394.7,1053 L395.76,1047.41 L393.04,1047.41 L394.1,1053Z M394.55,1053.26 L399.92,1051.38 L398.56,1049.03 L394.25,1052.74Z M394.25,1053.26 L398.56,1056.97 L399.92,1054.62 L394.55,1052.74Z M394.1,1053 L393.04,1058.59 L395.76,1058.59 L394.7,1053Z M394.25,1052.74 L388.88,1054.62 L390.24,1056.97 L394.55,1053.26Z M394.55,1052.74 L390.24,1049.03 L388.88,1051.38 L394.25,1053.26Z " fill="#000"/>
<circle cx="411.7" cy="1046.9" r="1.7" fill="#000"/>
<circle cx="416.98" cy="1049.95" r="1.7" fill="#000"/>
<circle cx="416.98" cy="1056.05" r="1.7" fill="#000"/>
<circle cx="411.7" cy="1059.1" r="1.7" fill="#000"/>
<circle cx="406.42" cy="1056.05" r="1.7" fill="#000"/>
<circle cx="406.42" cy="1049.95" r="1.7" fill="#000"/>
<path d="M412,1053 L413.06,1047.41 L410.34,1047.41 L411.4,1053Z M411.85,1053.26 L417.22,1051.38 L415.86,1049.03 L411.55,1052.74Z M411.55,1053.26 L415.86,1056.97 L417.22,1054.62 L411.85,1052.74Z M411.4,1053 L410.34,1058.59 L413.06,1058.59 L412,1053Z M411.55,1052.74 L406.18,1054.62 L407.54,1056.97 L411.85,1053.26Z M411.85,1052.74 L407.54,1049.03 L406.18,1051.38 L411.55,1053.26Z " fill="#000"/>
<ellipse cx="283.8" cy="1104.7" rx="6.1" ry="6.5" fill="#000"/>
<ellipse cx="283.8" cy="1142.3" rx="6.1" ry="6.5" fill="#000"/>
<ellipse cx="260.5" cy="1233.9" rx="6.1" ry="6.5" fill="#000"/>
<ellipse cx="306.3" cy="1241.8" rx="6.1" ry="6.5" fill="#000"/>
<ellipse cx="260.5" cy="1249.9" rx="6.1" ry="6.5" fill="#000"/>
<ellipse cx="283.4" cy="1251" rx="6.1" ry="6.5" fill="#000"/>
<ellipse cx="306.3" cy="1255.6" rx="6.1" ry="6.5" fill="#000"/>
<ellipse cx="283.4" cy="1266.4" rx="6.1" ry="6.5" fill="#000"/>
<ellipse cx="295.1" cy="1294.4" rx="6.1" ry="6.5" fill="#000"/>
<ellipse cx="272.2" cy="1299.9" rx="6.1" ry="6.5" fill="#000"/>
<line x1="211.2" y1="1234.3" x2="356" y2="1234.3" stroke="#000" stroke-width="2.6" stroke-linecap="butt"/>
<line x1="246.2" y1="1213.8" x2="321" y2="1213.8" stroke="#000" stroke-width="2.6" stroke-linecap="butt"/>
<line x1="246.2" y1="1254.1" x2="321" y2="1254.1" stroke="#000" stroke-width="2.6" stroke-linecap="butt"/>
<line x1="283.6" y1="1213.8" x2="283.6" y2="1254.1" stroke="#000" stroke-width="2.6" stroke-linecap="butt"/>
<rect x="493" y="1245.95" width="12" height="12.7" fill="#ec3324"/>
<rect x="427.1" y="1303.75" width="12" height="12.7" fill="#ec3324"/>
<rect x="448.9" y="1307.55" width="12" height="12.7" fill="#ec3324"/>
<rect x="471" y="1292.35" width="12" height="12.7" fill="#ec3324"/>
<rect x="471" y="1313.25" width="12" height="12.7" fill="#ec3324"/>
<rect x="493" y="1308.45" width="12" height="12.7" fill="#ec3324"/>
<rect x="515.1" y="1288.65" width="12" height="12.7" fill="#ec3324"/>
<rect x="515.1" y="1314.15" width="12" height="12.7" fill="#ec3324"/>
<rect x="537.3" y="1282.95" width="12" height="12.7" fill="#ec3324"/>
<rect x="537.3" y="1299.05" width="12" height="12.7" fill="#ec3324"/>
<rect x="537.3" y="1312.25" width="12" height="12.7" fill="#ec3324"/>
<rect x="559.6" y="1303.35" width="12" height="12.7" fill="#ec3324"/>
<rect x="493" y="1342.55" width="12" height="12.7" fill="#ec3324"/>
<line x1="426.6" y1="1307.8" x2="571.4" y2="1307.8" stroke="#ec3324" stroke-width="2.6" stroke-linecap="butt"/>
<line x1="462.3" y1="1302" x2="535.7" y2="1302" stroke="#ec3324" stroke-width="2.6" stroke-linecap="butt"/>
<line x1="462.3" y1="1313.9" x2="535.7" y2="1313.9" stroke="#ec3324" stroke-width="2.6" stroke-linecap="butt"/>
<line x1="499" y1="1302" x2="499" y2="1313.9" stroke="#ec3324" stroke-width="2.6" stroke-linecap="butt"/>
<text transform="translate(710.36,1023.3) scale(1.07,1)" style="font-family:'Liberation Sans',sans-serif;font-size:56.97px;font-weight:bold;font-style:normal" fill="#000">f</text>
<line x1="907.2" y1="1070.36" x2="907.2" y2="1372.7" stroke="#000" stroke-width="2.7" stroke-linecap="butt"/>
<line x1="894.6" y1="1371.4" x2="907.2" y2="1371.4" stroke="#000" stroke-width="2.7" stroke-linecap="butt"/>
<line x1="894.6" y1="1296.14" x2="907.2" y2="1296.14" stroke="#000" stroke-width="2.7" stroke-linecap="butt"/>
<line x1="894.6" y1="1220.88" x2="907.2" y2="1220.88" stroke="#000" stroke-width="2.7" stroke-linecap="butt"/>
<line x1="894.6" y1="1145.62" x2="907.2" y2="1145.62" stroke="#000" stroke-width="2.7" stroke-linecap="butt"/>
<line x1="894.6" y1="1070.36" x2="907.2" y2="1070.36" stroke="#000" stroke-width="2.7" stroke-linecap="butt"/>
<line x1="894.6" y1="1371.4" x2="1358.7" y2="1371.4" stroke="#000" stroke-width="2.7" stroke-linecap="butt"/>
<line x1="1020.1" y1="1371.4" x2="1020.1" y2="1384.3" stroke="#000" stroke-width="2.7" stroke-linecap="butt"/>
<line x1="1245.5" y1="1371.4" x2="1245.5" y2="1384.3" stroke="#000" stroke-width="2.7" stroke-linecap="butt"/>
<text transform="translate(847.92,1305.66) scale(0.96,1)" style="font-family:'Liberation Sans',sans-serif;font-size:39px;font-weight:normal;font-style:normal" fill="#000">20</text>
<text transform="translate(847.92,1230.4) scale(0.96,1)" style="font-family:'Liberation Sans',sans-serif;font-size:39px;font-weight:normal;font-style:normal" fill="#000">40</text>
<text transform="translate(847.92,1155.14) scale(0.96,1)" style="font-family:'Liberation Sans',sans-serif;font-size:39px;font-weight:normal;font-style:normal" fill="#000">60</text>
<text transform="translate(847.92,1079.88) scale(0.96,1)" style="font-family:'Liberation Sans',sans-serif;font-size:39px;font-weight:normal;font-style:normal" fill="#000">80</text>
<text transform="translate(864.34,1380.92) scale(0.96,1)" style="font-family:'Liberation Sans',sans-serif;font-size:39px;font-weight:normal;font-style:normal" fill="#000">0</text>
<text transform="translate(801.7,1340.85) rotate(-90) scale(0.88,1)" style="font-family:'Liberation Sans',sans-serif;font-size:39px;font-weight:normal;font-style:normal" fill="#000">Central Time (%)</text>
<text transform="translate(1036,1409) rotate(-45) scale(0.96,1)" text-anchor="end" style="font-family:'Liberation Sans',sans-serif;font-size:39px" fill="#000">AIF</text>
<text transform="translate(1265.5,1406) rotate(-45) scale(0.96,1)" text-anchor="end" style="font-family:'Liberation Sans',sans-serif;font-size:39px" fill="#000">AIF3</text>
<line x1="1020.4" y1="1063.5" x2="1241.7" y2="1063.5" stroke="#000" stroke-width="2.6" stroke-linecap="round"/>
<circle cx="1122.8" cy="1042.5" r="1.6" fill="#000"/>
<circle cx="1127.39" cy="1045.15" r="1.6" fill="#000"/>
<circle cx="1127.39" cy="1050.45" r="1.6" fill="#000"/>
<circle cx="1122.8" cy="1053.1" r="1.6" fill="#000"/>
<circle cx="1118.21" cy="1050.45" r="1.6" fill="#000"/>
<circle cx="1118.21" cy="1045.15" r="1.6" fill="#000"/>
<path d="M1123.1,1047.8 L1124.08,1042.98 L1121.52,1042.98 L1122.5,1047.8Z M1122.95,1048.06 L1127.61,1046.5 L1126.33,1044.28 L1122.65,1047.54Z M1122.65,1048.06 L1126.33,1051.32 L1127.61,1049.1 L1122.95,1047.54Z M1122.5,1047.8 L1121.52,1052.62 L1124.08,1052.62 L1123.1,1047.8Z M1122.65,1047.54 L1117.99,1049.1 L1119.27,1051.32 L1122.95,1048.06Z M1122.95,1047.54 L1119.27,1044.28 L1117.99,1046.5 L1122.65,1048.06Z " fill="#000"/>
<circle cx="1139.4" cy="1042.5" r="1.6" fill="#000"/>
<circle cx="1143.99" cy="1045.15" r="1.6" fill="#000"/>
<circle cx="1143.99" cy="1050.45" r="1.6" fill="#000"/>
<circle cx="1139.4" cy="1053.1" r="1.6" fill="#000"/>
<circle cx="1134.81" cy="1050.45" r="1.6" fill="#000"/>
<circle cx="1134.81" cy="1045.15" r="1.6" fill="#000"/>
<path d="M1139.7,1047.8 L1140.68,1042.98 L1138.12,1042.98 L1139.1,1047.8Z M1139.55,1048.06 L1144.21,1046.5 L1142.93,1044.28 L1139.25,1047.54Z M1139.25,1048.06 L1142.93,1051.32 L1144.21,1049.1 L1139.55,1047.54Z M1139.1,1047.8 L1138.12,1052.62 L1140.68,1052.62 L1139.7,1047.8Z M1139.25,1047.54 L1134.59,1049.1 L1135.87,1051.32 L1139.55,1048.06Z M1139.55,1047.54 L1135.87,1044.28 L1134.59,1046.5 L1139.25,1048.06Z " fill="#000"/>
<ellipse cx="1020.3" cy="1096.9" rx="6.1" ry="6.5" fill="#000"/>
<ellipse cx="1020.3" cy="1118.9" rx="6.1" ry="6.5" fill="#000"/>
<ellipse cx="1020.1" cy="1222.9" rx="6.1" ry="6.5" fill="#000"/>
<ellipse cx="1020.1" cy="1237.2" rx="6.1" ry="6.5" fill="#000"/>
<ellipse cx="1020.1" cy="1274.3" rx="6.1" ry="6.5" fill="#000"/>
<ellipse cx="995.7" cy="1278.8" rx="6.1" ry="6.5" fill="#000"/>
<ellipse cx="1044.5" cy="1279.8" rx="6.1" ry="6.5" fill="#000"/>
<ellipse cx="1020.1" cy="1289.8" rx="6.1" ry="6.5" fill="#000"/>
<ellipse cx="1020.1" cy="1324.3" rx="6.1" ry="6.5" fill="#000"/>
<ellipse cx="1020.1" cy="1343.4" rx="6.1" ry="6.5" fill="#000"/>
<line x1="944.8" y1="1246.4" x2="1095.4" y2="1246.4" stroke="#000" stroke-width="2.6" stroke-linecap="butt"/>
<line x1="981.6" y1="1220.7" x2="1058.6" y2="1220.7" stroke="#000" stroke-width="2.6" stroke-linecap="butt"/>
<line x1="981.6" y1="1272.4" x2="1058.6" y2="1272.4" stroke="#000" stroke-width="2.6" stroke-linecap="butt"/>
<line x1="1020.1" y1="1220.7" x2="1020.1" y2="1272.4" stroke="#000" stroke-width="2.6" stroke-linecap="butt"/>
<rect x="1203.35" y="1296.35" width="12.5" height="12.7" fill="#ec3324"/>
<rect x="1203.35" y="1322.65" width="12.5" height="12.7" fill="#ec3324"/>
<rect x="1203.35" y="1336.65" width="12.5" height="12.7" fill="#ec3324"/>
<rect x="1203.35" y="1352.65" width="12.5" height="12.7" fill="#ec3324"/>
<rect x="1227.75" y="1303.85" width="12.5" height="12.7" fill="#ec3324"/>
<rect x="1227.75" y="1321.65" width="12.5" height="12.7" fill="#ec3324"/>
<rect x="1251.75" y="1297.95" width="12.5" height="12.7" fill="#ec3324"/>
<rect x="1251.75" y="1316.65" width="12.5" height="12.7" fill="#ec3324"/>
<rect x="1251.75" y="1329.65" width="12.5" height="12.7" fill="#ec3324"/>
<rect x="1251.75" y="1343.65" width="12.5" height="12.7" fill="#ec3324"/>
<rect x="1275.75" y="1296.35" width="12.5" height="12.7" fill="#ec3324"/>
<rect x="1275.75" y="1325.05" width="12.5" height="12.7" fill="#ec3324"/>
<rect x="1275.75" y="1343.65" width="12.5" height="12.7" fill="#ec3324"/>
<line x1="1170.9" y1="1328.2" x2="1321.5" y2="1328.2" stroke="#ec3324" stroke-width="2.6" stroke-linecap="butt"/>
<line x1="1207.6" y1="1322.6" x2="1284.8" y2="1322.6" stroke="#ec3324" stroke-width="2.6" stroke-linecap="butt"/>
<line x1="1207.6" y1="1333.9" x2="1284.8" y2="1333.9" stroke="#ec3324" stroke-width="2.6" stroke-linecap="butt"/>
<line x1="1246.2" y1="1322.6" x2="1246.2" y2="1333.9" stroke="#ec3324" stroke-width="2.6" stroke-linecap="butt"/>
<text transform="translate(4.09,1496.94) scale(1.03,1)" style="font-family:'Liberation Sans',sans-serif;font-size:54.99px;font-weight:bold;font-style:normal" fill="#000">g</text>
<line x1="182" y1="1535.2" x2="182" y2="1859.3" stroke="#000" stroke-width="2.7" stroke-linecap="butt"/>
<line x1="168.6" y1="1858" x2="182" y2="1858" stroke="#000" stroke-width="2.7" stroke-linecap="butt"/>
<line x1="168.6" y1="1750.4" x2="182" y2="1750.4" stroke="#000" stroke-width="2.7" stroke-linecap="butt"/>
<line x1="168.6" y1="1642.8" x2="182" y2="1642.8" stroke="#000" stroke-width="2.7" stroke-linecap="butt"/>
<line x1="168.6" y1="1535.2" x2="182" y2="1535.2" stroke="#000" stroke-width="2.7" stroke-linecap="butt"/>
<line x1="168.6" y1="1858" x2="610.4" y2="1858" stroke="#000" stroke-width="2.7" stroke-linecap="butt"/>
<line x1="288.5" y1="1858" x2="288.5" y2="1871.7" stroke="#000" stroke-width="2.7" stroke-linecap="butt"/>
<line x1="503" y1="1858" x2="503" y2="1871.7" stroke="#000" stroke-width="2.7" stroke-linecap="butt"/>
<text transform="translate(79.17,1544.72) scale(0.96,1)" style="font-family:'Liberation Sans',sans-serif;font-size:39px;font-weight:normal;font-style:normal" fill="#000">1500</text>
<text transform="translate(79.07,1652.32) scale(0.96,1)" style="font-family:'Liberation Sans',sans-serif;font-size:39px;font-weight:normal;font-style:normal" fill="#000">1000</text>
<text transform="translate(93.49,1759.92) scale(0.96,1)" style="font-family:'Liberation Sans',sans-serif;font-size:39px;font-weight:normal;font-style:normal" fill="#000">500</text>
<text transform="translate(122.64,1867.52) scale(0.96,1)" style="font-family:'Liberation Sans',sans-serif;font-size:39px;font-weight:normal;font-style:normal" fill="#000">0</text>
<text transform="translate(69.6,1846.78) rotate(-90) scale(0.91,1)" style="font-family:'Liberation Sans',sans-serif;font-size:39px;font-weight:normal;font-style:normal" fill="#000">Total Distance (cm)</text>
<text transform="translate(303.2,1899.4) rotate(-45) scale(0.96,1)" text-anchor="end" style="font-family:'Liberation Sans',sans-serif;font-size:39px" fill="#000">AIF</text>
<text transform="translate(519.4,1897.1) rotate(-45) scale(0.96,1)" text-anchor="end" style="font-family:'Liberation Sans',sans-serif;font-size:39px" fill="#000">AIF3</text>
<ellipse cx="289" cy="1548.5" rx="6.1" ry="6.5" fill="#000"/>
<ellipse cx="265.9" cy="1631.6" rx="6.1" ry="6.5" fill="#000"/>
<ellipse cx="288.5" cy="1624.2" rx="6.1" ry="6.5" fill="#000"/>
<ellipse cx="288.5" cy="1638.6" rx="6.1" ry="6.5" fill="#000"/>
<ellipse cx="265.9" cy="1646.4" rx="6.1" ry="6.5" fill="#000"/>
<ellipse cx="311.4" cy="1644.3" rx="6.1" ry="6.5" fill="#000"/>
<ellipse cx="288.5" cy="1662.3" rx="6.1" ry="6.5" fill="#000"/>
<ellipse cx="288.5" cy="1693" rx="6.1" ry="6.5" fill="#000"/>
<ellipse cx="288.5" cy="1714.1" rx="6.1" ry="6.5" fill="#000"/>
<ellipse cx="288.5" cy="1744.8" rx="6.1" ry="6.5" fill="#000"/>
<line x1="217.2" y1="1654.3" x2="360" y2="1654.3" stroke="#000" stroke-width="2.6" stroke-linecap="butt"/>
<line x1="251.7" y1="1637.6" x2="325.5" y2="1637.6" stroke="#000" stroke-width="2.6" stroke-linecap="butt"/>
<line x1="251.7" y1="1671.8" x2="325.5" y2="1671.8" stroke="#000" stroke-width="2.6" stroke-linecap="butt"/>
<line x1="288.6" y1="1637.6" x2="288.6" y2="1671.8" stroke="#000" stroke-width="2.6" stroke-linecap="butt"/>
<rect x="496.75" y="1593.75" width="12.5" height="12.7" fill="#ec3324"/>
<rect x="496.75" y="1638.25" width="12.5" height="12.7" fill="#ec3324"/>
<rect x="485.25" y="1653.25" width="12.5" height="12.7" fill="#ec3324"/>
<rect x="508.25" y="1653.25" width="12.5" height="12.7" fill="#ec3324"/>
<rect x="508.25" y="1671.45" width="12.5" height="12.7" fill="#ec3324"/>
<rect x="485.25" y="1679.15" width="12.5" height="12.7" fill="#ec3324"/>
<rect x="462.25" y="1684.95" width="12.5" height="12.7" fill="#ec3324"/>
<rect x="508.25" y="1688.75" width="12.5" height="12.7" fill="#ec3324"/>
<rect x="531.25" y="1695.45" width="12.5" height="12.7" fill="#ec3324"/>
<rect x="485.25" y="1697.35" width="12.5" height="12.7" fill="#ec3324"/>
<rect x="485.25" y="1714.65" width="12.5" height="12.7" fill="#ec3324"/>
<rect x="508.25" y="1721.75" width="12.5" height="12.7" fill="#ec3324"/>
<rect x="496.75" y="1749.15" width="12.5" height="12.7" fill="#ec3324"/>
<line x1="431.5" y1="1686.5" x2="574.9" y2="1686.5" stroke="#ec3324" stroke-width="2.6" stroke-linecap="butt"/>
<line x1="466.3" y1="1675.3" x2="540.1" y2="1675.3" stroke="#ec3324" stroke-width="2.6" stroke-linecap="butt"/>
<line x1="466.3" y1="1697.4" x2="540.1" y2="1697.4" stroke="#ec3324" stroke-width="2.6" stroke-linecap="butt"/>
<line x1="503.2" y1="1675.3" x2="503.2" y2="1697.4" stroke="#ec3324" stroke-width="2.6" stroke-linecap="butt"/>
<text transform="translate(711.07,1498.8) scale(1,1)" style="font-family:'Liberation Sans',sans-serif;font-size:56px;font-weight:bold;font-style:normal" fill="#000">h</text>
<line x1="907" y1="1532.3" x2="907" y2="1852.8" stroke="#000" stroke-width="2.7" stroke-linecap="butt"/>
<line x1="894.7" y1="1851.5" x2="907" y2="1851.5" stroke="#000" stroke-width="2.7" stroke-linecap="butt"/>
<line x1="894.7" y1="1771.7" x2="907" y2="1771.7" stroke="#000" stroke-width="2.7" stroke-linecap="butt"/>
<line x1="894.7" y1="1691.9" x2="907" y2="1691.9" stroke="#000" stroke-width="2.7" stroke-linecap="butt"/>
<line x1="894.7" y1="1612.1" x2="907" y2="1612.1" stroke="#000" stroke-width="2.7" stroke-linecap="butt"/>
<line x1="894.7" y1="1532.3" x2="907" y2="1532.3" stroke="#000" stroke-width="2.7" stroke-linecap="butt"/>
<line x1="894.7" y1="1851.5" x2="1357.7" y2="1851.5" stroke="#000" stroke-width="2.7" stroke-linecap="butt"/>
<line x1="1022.6" y1="1851.5" x2="1022.6" y2="1864.4" stroke="#000" stroke-width="2.7" stroke-linecap="butt"/>
<line x1="1247.4" y1="1851.5" x2="1247.4" y2="1864.4" stroke="#000" stroke-width="2.7" stroke-linecap="butt"/>
<text transform="translate(865.84,1861.02) scale(0.96,1)" style="font-family:'Liberation Sans',sans-serif;font-size:39px;font-weight:normal;font-style:normal" fill="#000">0</text>
<text transform="translate(866.26,1781.41) scale(0.96,1)" style="font-family:'Liberation Sans',sans-serif;font-size:39px;font-weight:normal;font-style:normal" fill="#000">2</text>
<text transform="translate(865.47,1701.42) scale(0.96,1)" style="font-family:'Liberation Sans',sans-serif;font-size:39px;font-weight:normal;font-style:normal" fill="#000">4</text>
<text transform="translate(866.03,1621.62) scale(0.96,1)" style="font-family:'Liberation Sans',sans-serif;font-size:39px;font-weight:normal;font-style:normal" fill="#000">6</text>
<text transform="translate(865.99,1541.82) scale(0.96,1)" style="font-family:'Liberation Sans',sans-serif;font-size:39px;font-weight:normal;font-style:normal" fill="#000">8</text>
<text transform="translate(815,1859.98) rotate(-90) scale(0.94,1)" style="font-family:'Liberation Sans',sans-serif;font-size:39px;font-weight:normal;font-style:normal" fill="#000">Walking speed (cm/s)</text>
<text transform="translate(1041,1892.2) rotate(-45) scale(0.96,1)" text-anchor="end" style="font-family:'Liberation Sans',sans-serif;font-size:39px" fill="#000">AIF</text>
<text transform="translate(1267.3,1890.1) rotate(-45) scale(0.96,1)" text-anchor="end" style="font-family:'Liberation Sans',sans-serif;font-size:39px" fill="#000">AIF3</text>
<ellipse cx="1020.2" cy="1624.8" rx="6.1" ry="6.5" fill="#000"/>
<ellipse cx="1008.2" cy="1638" rx="6.1" ry="6.5" fill="#000"/>
<ellipse cx="1032.1" cy="1644" rx="6.1" ry="6.5" fill="#000"/>
<ellipse cx="1020.2" cy="1668" rx="6.1" ry="6.5" fill="#000"/>
<ellipse cx="1020.2" cy="1700.3" rx="6.1" ry="6.5" fill="#000"/>
<ellipse cx="996.2" cy="1715.9" rx="6.1" ry="6.5" fill="#000"/>
<ellipse cx="1020.2" cy="1715.9" rx="6.1" ry="6.5" fill="#000"/>
<ellipse cx="1044.1" cy="1719.5" rx="6.1" ry="6.5" fill="#000"/>
<ellipse cx="1008.2" cy="1750.7" rx="6.1" ry="6.5" fill="#000"/>
<ellipse cx="1032.1" cy="1750.7" rx="6.1" ry="6.5" fill="#000"/>
<line x1="944.6" y1="1691.9" x2="1095.2" y2="1691.9" stroke="#000" stroke-width="2.6" stroke-linecap="butt"/>
<line x1="981.5" y1="1678" x2="1058.3" y2="1678" stroke="#000" stroke-width="2.6" stroke-linecap="butt"/>
<line x1="981.5" y1="1706.8" x2="1058.3" y2="1706.8" stroke="#000" stroke-width="2.6" stroke-linecap="butt"/>
<line x1="1019.9" y1="1678" x2="1019.9" y2="1706.8" stroke="#000" stroke-width="2.6" stroke-linecap="butt"/>
<rect x="1226.55" y="1572.45" width="12.5" height="12.7" fill="#ec3324"/>
<rect x="1250.45" y="1569.25" width="12.5" height="12.7" fill="#ec3324"/>
<rect x="1262.55" y="1661.15" width="12.5" height="12.7" fill="#ec3324"/>
<rect x="1214.85" y="1674.25" width="12.5" height="12.7" fill="#ec3324"/>
<rect x="1238.35" y="1679.35" width="12.5" height="12.7" fill="#ec3324"/>
<rect x="1250.45" y="1695.45" width="12.5" height="12.7" fill="#ec3324"/>
<rect x="1226.55" y="1699.55" width="12.5" height="12.7" fill="#ec3324"/>
<rect x="1250.45" y="1715.95" width="12.5" height="12.7" fill="#ec3324"/>
<rect x="1226.55" y="1719.75" width="12.5" height="12.7" fill="#ec3324"/>
<rect x="1214.85" y="1736.95" width="12.5" height="12.7" fill="#ec3324"/>
<rect x="1238.35" y="1739.95" width="12.5" height="12.7" fill="#ec3324"/>
<rect x="1262.55" y="1745.15" width="12.5" height="12.7" fill="#ec3324"/>
<rect x="1214.85" y="1752.25" width="12.5" height="12.7" fill="#ec3324"/>
<line x1="1169.7" y1="1695.8" x2="1319.7" y2="1695.8" stroke="#ec3324" stroke-width="2.6" stroke-linecap="butt"/>
<line x1="1206.1" y1="1679.2" x2="1283.3" y2="1679.2" stroke="#ec3324" stroke-width="2.6" stroke-linecap="butt"/>
<line x1="1206.1" y1="1712.6" x2="1283.3" y2="1712.6" stroke="#ec3324" stroke-width="2.6" stroke-linecap="butt"/>
<line x1="1244.7" y1="1679.2" x2="1244.7" y2="1712.6" stroke="#ec3324" stroke-width="2.6" stroke-linecap="butt"/>
</svg>
</body></html>
